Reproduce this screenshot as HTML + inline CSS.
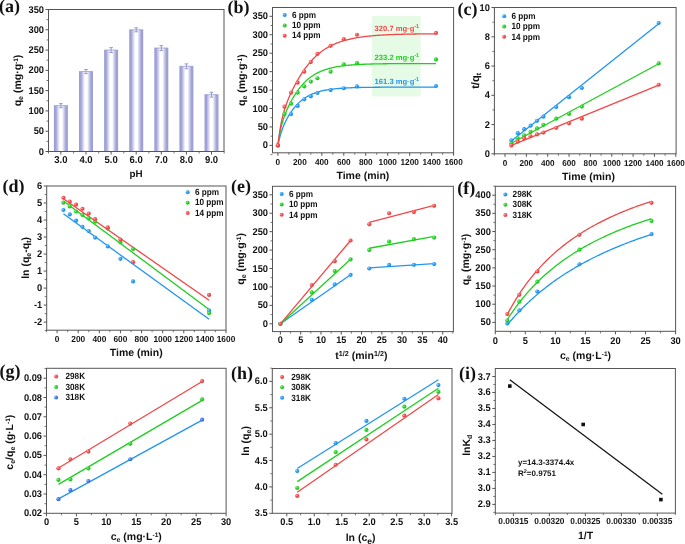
<!DOCTYPE html>
<html><head><meta charset="utf-8"><style>
html,body{margin:0;padding:0;background:#fff;}
body{width:685px;height:544px;overflow:hidden;}
svg{display:block;font-family:"Liberation Sans",sans-serif;filter:blur(0.4px);}
</style></head><body>
<svg width="685" height="544" viewBox="0 0 685 544" text-rendering="geometricPrecision">
<rect width="685" height="544" fill="#fff"/>
<defs><linearGradient id="bar" x1="0" x2="1" y1="0" y2="0"><stop offset="0" stop-color="#9b9dd3"/><stop offset="0.15" stop-color="#a3a5d8"/><stop offset="0.42" stop-color="#ffffff"/><stop offset="0.58" stop-color="#ffffff"/><stop offset="0.85" stop-color="#a3a5d8"/><stop offset="1" stop-color="#9b9dd3"/></linearGradient></defs>
<rect x="53.90" y="105.65" width="14" height="45.85" fill="url(#bar)"/>
<line x1="53.90" y1="105.65" x2="67.90" y2="105.65" stroke="#9b9dd3" stroke-width="0.8"/>
<path d="M60.90 103.63V107.68M59.10 103.63h3.6M59.10 107.68h3.6" stroke="#8d8fc6" stroke-width="0.9" fill="none"/>
<rect x="79.00" y="71.57" width="14" height="79.93" fill="url(#bar)"/>
<line x1="79.00" y1="71.57" x2="93.00" y2="71.57" stroke="#9b9dd3" stroke-width="0.8"/>
<path d="M86.00 69.55V73.60M84.20 69.55h3.6M84.20 73.60h3.6" stroke="#8d8fc6" stroke-width="0.9" fill="none"/>
<rect x="104.10" y="50.07" width="14" height="101.43" fill="url(#bar)"/>
<line x1="104.10" y1="50.07" x2="118.10" y2="50.07" stroke="#9b9dd3" stroke-width="0.8"/>
<path d="M111.10 47.64V52.51M109.30 47.64h3.6M109.30 52.51h3.6" stroke="#8d8fc6" stroke-width="0.9" fill="none"/>
<rect x="129.20" y="29.79" width="14" height="121.71" fill="url(#bar)"/>
<line x1="129.20" y1="29.79" x2="143.20" y2="29.79" stroke="#9b9dd3" stroke-width="0.8"/>
<path d="M136.20 27.76V31.81M134.40 27.76h3.6M134.40 31.81h3.6" stroke="#8d8fc6" stroke-width="0.9" fill="none"/>
<rect x="154.30" y="48.04" width="14" height="103.46" fill="url(#bar)"/>
<line x1="154.30" y1="48.04" x2="168.30" y2="48.04" stroke="#9b9dd3" stroke-width="0.8"/>
<path d="M161.30 45.61V50.48M159.50 45.61h3.6M159.50 50.48h3.6" stroke="#8d8fc6" stroke-width="0.9" fill="none"/>
<rect x="179.40" y="66.30" width="14" height="85.20" fill="url(#bar)"/>
<line x1="179.40" y1="66.30" x2="193.40" y2="66.30" stroke="#9b9dd3" stroke-width="0.8"/>
<path d="M186.40 63.87V68.73M184.60 63.87h3.6M184.60 68.73h3.6" stroke="#8d8fc6" stroke-width="0.9" fill="none"/>
<rect x="204.50" y="94.70" width="14" height="56.80" fill="url(#bar)"/>
<line x1="204.50" y1="94.70" x2="218.50" y2="94.70" stroke="#9b9dd3" stroke-width="0.8"/>
<path d="M211.50 92.27V97.13M209.70 92.27h3.6M209.70 97.13h3.6" stroke="#8d8fc6" stroke-width="0.9" fill="none"/>
<rect x="48.50" y="9.50" width="175.50" height="142.00" fill="none" stroke="#555" stroke-width="1"/>
<line x1="45.50" y1="151.50" x2="48.50" y2="151.50" stroke="#555" stroke-width="1"/>
<line x1="45.50" y1="131.21" x2="48.50" y2="131.21" stroke="#555" stroke-width="1"/>
<line x1="45.50" y1="110.93" x2="48.50" y2="110.93" stroke="#555" stroke-width="1"/>
<line x1="45.50" y1="90.64" x2="48.50" y2="90.64" stroke="#555" stroke-width="1"/>
<line x1="45.50" y1="70.36" x2="48.50" y2="70.36" stroke="#555" stroke-width="1"/>
<line x1="45.50" y1="50.07" x2="48.50" y2="50.07" stroke="#555" stroke-width="1"/>
<line x1="45.50" y1="29.79" x2="48.50" y2="29.79" stroke="#555" stroke-width="1"/>
<line x1="45.50" y1="9.50" x2="48.50" y2="9.50" stroke="#555" stroke-width="1"/>
<line x1="46.50" y1="141.36" x2="48.50" y2="141.36" stroke="#555" stroke-width="0.8"/>
<line x1="46.50" y1="121.07" x2="48.50" y2="121.07" stroke="#555" stroke-width="0.8"/>
<line x1="46.50" y1="100.79" x2="48.50" y2="100.79" stroke="#555" stroke-width="0.8"/>
<line x1="46.50" y1="80.50" x2="48.50" y2="80.50" stroke="#555" stroke-width="0.8"/>
<line x1="46.50" y1="60.21" x2="48.50" y2="60.21" stroke="#555" stroke-width="0.8"/>
<line x1="46.50" y1="39.93" x2="48.50" y2="39.93" stroke="#555" stroke-width="0.8"/>
<line x1="46.50" y1="19.64" x2="48.50" y2="19.64" stroke="#555" stroke-width="0.8"/>
<text transform="translate(44.00,154.50) scale(1,1.05)" font-size="9.312" text-anchor="end" font-weight="bold" font-family="Liberation Sans" fill="#111" >0</text>
<text transform="translate(44.00,134.21) scale(1,1.05)" font-size="9.312" text-anchor="end" font-weight="bold" font-family="Liberation Sans" fill="#111" >50</text>
<text transform="translate(44.00,113.93) scale(1,1.05)" font-size="9.312" text-anchor="end" font-weight="bold" font-family="Liberation Sans" fill="#111" >100</text>
<text transform="translate(44.00,93.64) scale(1,1.05)" font-size="9.312" text-anchor="end" font-weight="bold" font-family="Liberation Sans" fill="#111" >150</text>
<text transform="translate(44.00,73.36) scale(1,1.05)" font-size="9.312" text-anchor="end" font-weight="bold" font-family="Liberation Sans" fill="#111" >200</text>
<text transform="translate(44.00,53.07) scale(1,1.05)" font-size="9.312" text-anchor="end" font-weight="bold" font-family="Liberation Sans" fill="#111" >250</text>
<text transform="translate(44.00,32.79) scale(1,1.05)" font-size="9.312" text-anchor="end" font-weight="bold" font-family="Liberation Sans" fill="#111" >300</text>
<text transform="translate(44.00,12.50) scale(1,1.05)" font-size="9.312" text-anchor="end" font-weight="bold" font-family="Liberation Sans" fill="#111" >350</text>
<line x1="60.90" y1="151.5" x2="60.90" y2="154.5" stroke="#555" stroke-width="1"/>
<line x1="86.00" y1="151.5" x2="86.00" y2="154.5" stroke="#555" stroke-width="1"/>
<line x1="111.10" y1="151.5" x2="111.10" y2="154.5" stroke="#555" stroke-width="1"/>
<line x1="136.20" y1="151.5" x2="136.20" y2="154.5" stroke="#555" stroke-width="1"/>
<line x1="161.30" y1="151.5" x2="161.30" y2="154.5" stroke="#555" stroke-width="1"/>
<line x1="186.40" y1="151.5" x2="186.40" y2="154.5" stroke="#555" stroke-width="1"/>
<line x1="211.50" y1="151.5" x2="211.50" y2="154.5" stroke="#555" stroke-width="1"/>
<line x1="48.50" y1="151.5" x2="48.50" y2="153.5" stroke="#555" stroke-width="0.8"/>
<line x1="73.60" y1="151.5" x2="73.60" y2="153.5" stroke="#555" stroke-width="0.8"/>
<line x1="98.70" y1="151.5" x2="98.70" y2="153.5" stroke="#555" stroke-width="0.8"/>
<line x1="123.80" y1="151.5" x2="123.80" y2="153.5" stroke="#555" stroke-width="0.8"/>
<line x1="148.90" y1="151.5" x2="148.90" y2="153.5" stroke="#555" stroke-width="0.8"/>
<line x1="174.00" y1="151.5" x2="174.00" y2="153.5" stroke="#555" stroke-width="0.8"/>
<line x1="199.10" y1="151.5" x2="199.10" y2="153.5" stroke="#555" stroke-width="0.8"/>
<line x1="224.20" y1="151.5" x2="224.20" y2="153.5" stroke="#555" stroke-width="0.8"/>
<text transform="translate(60.90,163.30) scale(1,1.05)" font-size="9.506" text-anchor="middle" font-weight="bold" font-family="Liberation Sans" fill="#111" >3.0</text>
<text transform="translate(86.00,163.30) scale(1,1.05)" font-size="9.506" text-anchor="middle" font-weight="bold" font-family="Liberation Sans" fill="#111" >4.0</text>
<text transform="translate(111.10,163.30) scale(1,1.05)" font-size="9.506" text-anchor="middle" font-weight="bold" font-family="Liberation Sans" fill="#111" >5.0</text>
<text transform="translate(136.20,163.30) scale(1,1.05)" font-size="9.506" text-anchor="middle" font-weight="bold" font-family="Liberation Sans" fill="#111" >6.0</text>
<text transform="translate(161.30,163.30) scale(1,1.05)" font-size="9.506" text-anchor="middle" font-weight="bold" font-family="Liberation Sans" fill="#111" >7.0</text>
<text transform="translate(186.40,163.30) scale(1,1.05)" font-size="9.506" text-anchor="middle" font-weight="bold" font-family="Liberation Sans" fill="#111" >8.0</text>
<text transform="translate(211.50,163.30) scale(1,1.05)" font-size="9.506" text-anchor="middle" font-weight="bold" font-family="Liberation Sans" fill="#111" >9.0</text>
<text x="136.00" y="177.00" font-size="9.8" text-anchor="middle" font-weight="bold" font-family="Liberation Sans" fill="#111" >pH</text>
<text transform="translate(20.60,80.50) rotate(-90)" font-size="10.5" text-anchor="middle" font-weight="bold" font-family="Liberation Sans" fill="#111">q<tspan font-size="7" baseline-shift="-2">e</tspan> (mg·g<tspan font-size="6.5" baseline-shift="3.5">-1</tspan>)</text>
<text x="-1.00" y="11.90" font-size="18" text-anchor="start" font-weight="bold" font-family="Liberation Serif" fill="#111" >(a)</text>
<rect x="372" y="15.9" width="48.66" height="80.5" fill="#e6fbe6"/>
<polyline points="277.90,145.40 278.34,143.29 278.78,141.33 279.22,139.50 279.66,137.78 280.10,136.16 280.54,134.64 280.97,133.20 281.41,131.84 281.85,130.54 282.29,129.31 282.73,128.13 283.17,127.00 283.61,125.91 284.05,124.87 284.49,123.86 284.93,122.89 285.37,121.95 285.81,121.05 286.25,120.17 286.69,119.32 287.12,118.49 287.56,117.69 288.00,116.91 288.44,116.15 288.88,115.41 289.32,114.69 289.76,113.99 290.20,113.31 290.64,112.64 291.08,111.99 292.18,110.44 293.27,108.98 294.37,107.61 295.47,106.31 296.57,105.10 297.67,103.96 298.76,102.88 299.86,101.88 300.96,100.93 302.06,100.04 303.16,99.21 304.25,98.43 305.35,97.69 306.45,97.01 307.55,96.37 308.65,95.76 309.75,95.20 310.84,94.67 311.94,94.18 313.04,93.72 314.14,93.29 315.24,92.88 316.33,92.51 317.43,92.15 318.53,91.82 319.63,91.51 320.73,91.23 321.82,90.96 322.92,90.71 324.02,90.47 325.12,90.25 326.22,90.04 327.32,89.85 328.41,89.67 329.51,89.51 330.61,89.35 331.71,89.20 332.81,89.07 333.90,88.94 335.00,88.82 336.10,88.71 337.20,88.60 338.30,88.50 339.39,88.41 340.49,88.33 341.59,88.25 342.69,88.18 343.79,88.11 344.89,88.04 345.98,87.98 347.08,87.92 348.18,87.87 349.28,87.82 350.38,87.78 351.47,87.73 352.57,87.69 353.67,87.65 354.77,87.62 355.87,87.59 356.96,87.56 358.06,87.53 359.16,87.50 360.26,87.48 361.36,87.45 362.46,87.43 363.55,87.41 364.65,87.39 365.75,87.37 366.85,87.36 367.95,87.34 369.04,87.33 370.14,87.31 371.24,87.30 372.34,87.29 373.44,87.28 374.53,87.27 375.63,87.26 376.73,87.25 377.83,87.24 378.93,87.23 380.03,87.23 381.12,87.22 382.22,87.21 383.32,87.21 384.42,87.20 385.52,87.19 386.61,87.19 387.71,87.19 388.81,87.18 389.91,87.18 391.01,87.17 392.11,87.17 393.20,87.17 394.30,87.16 395.40,87.16 396.50,87.16 397.60,87.16 398.69,87.15 399.79,87.15 400.89,87.15 401.99,87.15 403.09,87.15 404.18,87.14 405.28,87.14 406.38,87.14 407.48,87.14 408.58,87.14 409.68,87.14 410.77,87.14 411.87,87.14 412.97,87.13 414.07,87.13 415.17,87.13 416.26,87.13 417.36,87.13 418.46,87.13 419.56,87.13 420.66,87.13 421.75,87.13 422.85,87.13 423.95,87.13 425.05,87.13 426.15,87.13 427.25,87.13 428.34,87.13 429.44,87.13 430.54,87.13 431.64,87.12 432.74,87.12 433.83,87.12 434.93,87.12 436.03,87.12" fill="none" stroke="#2196f0" stroke-width="1.3"/>
<polyline points="277.90,145.40 278.34,142.19 278.78,139.26 279.22,136.59 279.66,134.14 280.10,131.88 280.54,129.80 280.97,127.86 281.41,126.05 281.85,124.36 282.29,122.76 282.73,121.26 283.17,119.84 283.61,118.48 284.05,117.19 284.49,115.95 284.93,114.75 285.37,113.61 285.81,112.50 286.25,111.43 286.69,110.38 287.12,109.37 287.56,108.39 288.00,107.43 288.44,106.49 288.88,105.57 289.32,104.68 289.76,103.80 290.20,102.94 290.64,102.10 291.08,101.28 292.18,99.28 293.27,97.38 294.37,95.57 295.47,93.84 296.57,92.19 297.67,90.62 298.76,89.13 299.86,87.70 300.96,86.35 302.06,85.07 303.16,83.86 304.25,82.71 305.35,81.62 306.45,80.58 307.55,79.61 308.65,78.69 309.75,77.81 310.84,76.99 311.94,76.21 313.04,75.48 314.14,74.79 315.24,74.14 316.33,73.52 317.43,72.94 318.53,72.39 319.63,71.88 320.73,71.39 321.82,70.94 322.92,70.50 324.02,70.10 325.12,69.72 326.22,69.35 327.32,69.01 328.41,68.69 329.51,68.39 330.61,68.11 331.71,67.84 332.81,67.59 333.90,67.35 335.00,67.13 336.10,66.92 337.20,66.72 338.30,66.53 339.39,66.36 340.49,66.19 341.59,66.04 342.69,65.89 343.79,65.75 344.89,65.62 345.98,65.50 347.08,65.38 348.18,65.27 349.28,65.17 350.38,65.07 351.47,64.98 352.57,64.90 353.67,64.82 354.77,64.74 355.87,64.67 356.96,64.60 358.06,64.54 359.16,64.48 360.26,64.42 361.36,64.37 362.46,64.32 363.55,64.27 364.65,64.23 365.75,64.19 366.85,64.15 367.95,64.11 369.04,64.08 370.14,64.04 371.24,64.01 372.34,63.98 373.44,63.96 374.53,63.93 375.63,63.91 376.73,63.88 377.83,63.86 378.93,63.84 380.03,63.82 381.12,63.80 382.22,63.79 383.32,63.77 384.42,63.76 385.52,63.74 386.61,63.73 387.71,63.72 388.81,63.70 389.91,63.69 391.01,63.68 392.11,63.67 393.20,63.66 394.30,63.66 395.40,63.65 396.50,63.64 397.60,63.63 398.69,63.63 399.79,63.62 400.89,63.61 401.99,63.61 403.09,63.60 404.18,63.60 405.28,63.59 406.38,63.59 407.48,63.58 408.58,63.58 409.68,63.57 410.77,63.57 411.87,63.57 412.97,63.56 414.07,63.56 415.17,63.56 416.26,63.56 417.36,63.55 418.46,63.55 419.56,63.55 420.66,63.55 421.75,63.55 422.85,63.54 423.95,63.54 425.05,63.54 426.15,63.54 427.25,63.54 428.34,63.54 429.44,63.53 430.54,63.53 431.64,63.53 432.74,63.53 433.83,63.53 434.93,63.53 436.03,63.53" fill="none" stroke="#1fcf1f" stroke-width="1.3"/>
<polyline points="277.90,145.40 278.34,141.59 278.78,138.08 279.22,134.85 279.66,131.88 280.10,129.12 280.54,126.57 280.97,124.20 281.41,121.98 281.85,119.91 282.29,117.97 282.73,116.14 283.17,114.41 283.61,112.78 284.05,111.23 284.49,109.75 284.93,108.33 285.37,106.98 285.81,105.68 286.25,104.43 286.69,103.22 287.12,102.05 287.56,100.91 288.00,99.80 288.44,98.73 288.88,97.68 289.32,96.65 289.76,95.65 290.20,94.66 290.64,93.70 291.08,92.75 292.18,90.45 293.27,88.24 294.37,86.10 295.47,84.04 296.57,82.04 297.67,80.10 298.76,78.23 299.86,76.41 300.96,74.66 302.06,72.96 303.16,71.32 304.25,69.74 305.35,68.21 306.45,66.74 307.55,65.33 308.65,63.96 309.75,62.65 310.84,61.40 311.94,60.19 313.04,59.03 314.14,57.91 315.24,56.85 316.33,55.82 317.43,54.84 318.53,53.90 319.63,53.01 320.73,52.14 321.82,51.32 322.92,50.53 324.02,49.78 325.12,49.06 326.22,48.37 327.32,47.71 328.41,47.08 329.51,46.48 330.61,45.91 331.71,45.36 332.81,44.83 333.90,44.33 335.00,43.85 336.10,43.39 337.20,42.95 338.30,42.53 339.39,42.14 340.49,41.75 341.59,41.39 342.69,41.04 343.79,40.71 344.89,40.39 345.98,40.09 347.08,39.80 348.18,39.52 349.28,39.26 350.38,39.00 351.47,38.76 352.57,38.53 353.67,38.31 354.77,38.10 355.87,37.90 356.96,37.71 358.06,37.53 359.16,37.35 360.26,37.18 361.36,37.02 362.46,36.87 363.55,36.73 364.65,36.59 365.75,36.46 366.85,36.33 367.95,36.21 369.04,36.09 370.14,35.98 371.24,35.88 372.34,35.78 373.44,35.68 374.53,35.59 375.63,35.50 376.73,35.42 377.83,35.34 378.93,35.26 380.03,35.19 381.12,35.12 382.22,35.05 383.32,34.99 384.42,34.93 385.52,34.87 386.61,34.81 387.71,34.76 388.81,34.71 389.91,34.66 391.01,34.61 392.11,34.57 393.20,34.53 394.30,34.49 395.40,34.45 396.50,34.41 397.60,34.38 398.69,34.35 399.79,34.31 400.89,34.28 401.99,34.25 403.09,34.23 404.18,34.20 405.28,34.17 406.38,34.15 407.48,34.13 408.58,34.11 409.68,34.08 410.77,34.06 411.87,34.04 412.97,34.03 414.07,34.01 415.17,33.99 416.26,33.98 417.36,33.96 418.46,33.95 419.56,33.93 420.66,33.92 421.75,33.91 422.85,33.89 423.95,33.88 425.05,33.87 426.15,33.86 427.25,33.85 428.34,33.84 429.44,33.83 430.54,33.82 431.64,33.81 432.74,33.81 433.83,33.80 434.93,33.79 436.03,33.78" fill="none" stroke="#f04848" stroke-width="1.3"/>
<circle cx="277.90" cy="145.40" r="2.1" fill="#2196f0"/>
<circle cx="277.30" cy="144.80" r="0.95" fill="#fff" fill-opacity="0.45"/>
<circle cx="291.08" cy="114.05" r="2.1" fill="#2196f0"/>
<circle cx="290.48" cy="113.45" r="0.95" fill="#fff" fill-opacity="0.45"/>
<circle cx="297.67" cy="105.93" r="2.1" fill="#2196f0"/>
<circle cx="297.07" cy="105.33" r="0.95" fill="#fff" fill-opacity="0.45"/>
<circle cx="304.25" cy="99.29" r="2.1" fill="#2196f0"/>
<circle cx="303.65" cy="98.69" r="0.95" fill="#fff" fill-opacity="0.45"/>
<circle cx="310.84" cy="96.34" r="2.1" fill="#2196f0"/>
<circle cx="310.24" cy="95.74" r="0.95" fill="#fff" fill-opacity="0.45"/>
<circle cx="317.43" cy="93.02" r="2.1" fill="#2196f0"/>
<circle cx="316.83" cy="92.42" r="0.95" fill="#fff" fill-opacity="0.45"/>
<circle cx="330.61" cy="90.07" r="2.1" fill="#2196f0"/>
<circle cx="330.01" cy="89.47" r="0.95" fill="#fff" fill-opacity="0.45"/>
<circle cx="343.79" cy="88.23" r="2.1" fill="#2196f0"/>
<circle cx="343.19" cy="87.63" r="0.95" fill="#fff" fill-opacity="0.45"/>
<circle cx="356.96" cy="86.38" r="2.1" fill="#2196f0"/>
<circle cx="356.36" cy="85.78" r="0.95" fill="#fff" fill-opacity="0.45"/>
<circle cx="436.03" cy="86.01" r="2.1" fill="#2196f0"/>
<circle cx="435.43" cy="85.41" r="0.95" fill="#fff" fill-opacity="0.45"/>
<circle cx="277.90" cy="145.40" r="2.1" fill="#1fcf1f"/>
<circle cx="277.30" cy="144.80" r="0.95" fill="#fff" fill-opacity="0.45"/>
<circle cx="284.49" cy="114.05" r="2.1" fill="#1fcf1f"/>
<circle cx="283.89" cy="113.45" r="0.95" fill="#fff" fill-opacity="0.45"/>
<circle cx="291.08" cy="103.72" r="2.1" fill="#1fcf1f"/>
<circle cx="290.48" cy="103.12" r="0.95" fill="#fff" fill-opacity="0.45"/>
<circle cx="297.67" cy="92.65" r="2.1" fill="#1fcf1f"/>
<circle cx="297.07" cy="92.05" r="0.95" fill="#fff" fill-opacity="0.45"/>
<circle cx="304.25" cy="86.38" r="2.1" fill="#1fcf1f"/>
<circle cx="303.65" cy="85.78" r="0.95" fill="#fff" fill-opacity="0.45"/>
<circle cx="310.84" cy="81.59" r="2.1" fill="#1fcf1f"/>
<circle cx="310.24" cy="80.99" r="0.95" fill="#fff" fill-opacity="0.45"/>
<circle cx="317.43" cy="78.27" r="2.1" fill="#1fcf1f"/>
<circle cx="316.83" cy="77.67" r="0.95" fill="#fff" fill-opacity="0.45"/>
<circle cx="330.61" cy="71.63" r="2.1" fill="#1fcf1f"/>
<circle cx="330.01" cy="71.03" r="0.95" fill="#fff" fill-opacity="0.45"/>
<circle cx="343.79" cy="64.25" r="2.1" fill="#1fcf1f"/>
<circle cx="343.19" cy="63.65" r="0.95" fill="#fff" fill-opacity="0.45"/>
<circle cx="356.96" cy="63.14" r="2.1" fill="#1fcf1f"/>
<circle cx="356.36" cy="62.54" r="0.95" fill="#fff" fill-opacity="0.45"/>
<circle cx="436.03" cy="59.46" r="2.1" fill="#1fcf1f"/>
<circle cx="435.43" cy="58.86" r="0.95" fill="#fff" fill-opacity="0.45"/>
<circle cx="277.90" cy="145.40" r="2.1" fill="#f04848"/>
<circle cx="277.30" cy="144.80" r="0.95" fill="#fff" fill-opacity="0.45"/>
<circle cx="284.49" cy="106.67" r="2.1" fill="#f04848"/>
<circle cx="283.89" cy="106.07" r="0.95" fill="#fff" fill-opacity="0.45"/>
<circle cx="291.08" cy="92.65" r="2.1" fill="#f04848"/>
<circle cx="290.48" cy="92.05" r="0.95" fill="#fff" fill-opacity="0.45"/>
<circle cx="297.67" cy="82.69" r="2.1" fill="#f04848"/>
<circle cx="297.07" cy="82.09" r="0.95" fill="#fff" fill-opacity="0.45"/>
<circle cx="304.25" cy="71.63" r="2.1" fill="#f04848"/>
<circle cx="303.65" cy="71.03" r="0.95" fill="#fff" fill-opacity="0.45"/>
<circle cx="310.84" cy="62.04" r="2.1" fill="#f04848"/>
<circle cx="310.24" cy="61.44" r="0.95" fill="#fff" fill-opacity="0.45"/>
<circle cx="317.43" cy="53.92" r="2.1" fill="#f04848"/>
<circle cx="316.83" cy="53.32" r="0.95" fill="#fff" fill-opacity="0.45"/>
<circle cx="330.61" cy="45.81" r="2.1" fill="#f04848"/>
<circle cx="330.01" cy="45.21" r="0.95" fill="#fff" fill-opacity="0.45"/>
<circle cx="343.79" cy="39.17" r="2.1" fill="#f04848"/>
<circle cx="343.19" cy="38.57" r="0.95" fill="#fff" fill-opacity="0.45"/>
<circle cx="356.96" cy="34.74" r="2.1" fill="#f04848"/>
<circle cx="356.36" cy="34.14" r="0.95" fill="#fff" fill-opacity="0.45"/>
<circle cx="436.03" cy="32.90" r="2.1" fill="#f04848"/>
<circle cx="435.43" cy="32.30" r="0.95" fill="#fff" fill-opacity="0.45"/>
<rect x="272.50" y="7.50" width="181.10" height="145.30" fill="none" stroke="#555" stroke-width="1"/>
<line x1="269.50" y1="145.40" x2="272.50" y2="145.40" stroke="#555" stroke-width="1"/>
<line x1="269.50" y1="126.96" x2="272.50" y2="126.96" stroke="#555" stroke-width="1"/>
<line x1="269.50" y1="108.51" x2="272.50" y2="108.51" stroke="#555" stroke-width="1"/>
<line x1="269.50" y1="90.07" x2="272.50" y2="90.07" stroke="#555" stroke-width="1"/>
<line x1="269.50" y1="71.63" x2="272.50" y2="71.63" stroke="#555" stroke-width="1"/>
<line x1="269.50" y1="53.19" x2="272.50" y2="53.19" stroke="#555" stroke-width="1"/>
<line x1="269.50" y1="34.74" x2="272.50" y2="34.74" stroke="#555" stroke-width="1"/>
<line x1="269.50" y1="16.30" x2="272.50" y2="16.30" stroke="#555" stroke-width="1"/>
<line x1="270.50" y1="136.18" x2="272.50" y2="136.18" stroke="#555" stroke-width="0.8"/>
<line x1="270.50" y1="117.74" x2="272.50" y2="117.74" stroke="#555" stroke-width="0.8"/>
<line x1="270.50" y1="99.29" x2="272.50" y2="99.29" stroke="#555" stroke-width="0.8"/>
<line x1="270.50" y1="80.85" x2="272.50" y2="80.85" stroke="#555" stroke-width="0.8"/>
<line x1="270.50" y1="62.41" x2="272.50" y2="62.41" stroke="#555" stroke-width="0.8"/>
<line x1="270.50" y1="43.96" x2="272.50" y2="43.96" stroke="#555" stroke-width="0.8"/>
<line x1="270.50" y1="25.52" x2="272.50" y2="25.52" stroke="#555" stroke-width="0.8"/>
<line x1="270.50" y1="154.62" x2="272.50" y2="154.62" stroke="#555" stroke-width="0.8"/>
<text transform="translate(268.00,148.40) scale(1,1.05)" font-size="9.312" text-anchor="end" font-weight="bold" font-family="Liberation Sans" fill="#111" >0</text>
<text transform="translate(268.00,129.96) scale(1,1.05)" font-size="9.312" text-anchor="end" font-weight="bold" font-family="Liberation Sans" fill="#111" >50</text>
<text transform="translate(268.00,111.51) scale(1,1.05)" font-size="9.312" text-anchor="end" font-weight="bold" font-family="Liberation Sans" fill="#111" >100</text>
<text transform="translate(268.00,93.07) scale(1,1.05)" font-size="9.312" text-anchor="end" font-weight="bold" font-family="Liberation Sans" fill="#111" >150</text>
<text transform="translate(268.00,74.63) scale(1,1.05)" font-size="9.312" text-anchor="end" font-weight="bold" font-family="Liberation Sans" fill="#111" >200</text>
<text transform="translate(268.00,56.19) scale(1,1.05)" font-size="9.312" text-anchor="end" font-weight="bold" font-family="Liberation Sans" fill="#111" >250</text>
<text transform="translate(268.00,37.74) scale(1,1.05)" font-size="9.312" text-anchor="end" font-weight="bold" font-family="Liberation Sans" fill="#111" >300</text>
<text transform="translate(268.00,19.30) scale(1,1.05)" font-size="9.312" text-anchor="end" font-weight="bold" font-family="Liberation Sans" fill="#111" >350</text>
<line x1="277.90" y1="152.80" x2="277.90" y2="155.80" stroke="#555" stroke-width="1"/>
<line x1="299.86" y1="152.80" x2="299.86" y2="155.80" stroke="#555" stroke-width="1"/>
<line x1="321.82" y1="152.80" x2="321.82" y2="155.80" stroke="#555" stroke-width="1"/>
<line x1="343.79" y1="152.80" x2="343.79" y2="155.80" stroke="#555" stroke-width="1"/>
<line x1="365.75" y1="152.80" x2="365.75" y2="155.80" stroke="#555" stroke-width="1"/>
<line x1="387.71" y1="152.80" x2="387.71" y2="155.80" stroke="#555" stroke-width="1"/>
<line x1="409.68" y1="152.80" x2="409.68" y2="155.80" stroke="#555" stroke-width="1"/>
<line x1="431.64" y1="152.80" x2="431.64" y2="155.80" stroke="#555" stroke-width="1"/>
<line x1="453.60" y1="152.80" x2="453.60" y2="155.80" stroke="#555" stroke-width="1"/>
<line x1="288.88" y1="152.80" x2="288.88" y2="154.80" stroke="#555" stroke-width="0.8"/>
<line x1="310.84" y1="152.80" x2="310.84" y2="154.80" stroke="#555" stroke-width="0.8"/>
<line x1="332.81" y1="152.80" x2="332.81" y2="154.80" stroke="#555" stroke-width="0.8"/>
<line x1="354.77" y1="152.80" x2="354.77" y2="154.80" stroke="#555" stroke-width="0.8"/>
<line x1="376.73" y1="152.80" x2="376.73" y2="154.80" stroke="#555" stroke-width="0.8"/>
<line x1="398.69" y1="152.80" x2="398.69" y2="154.80" stroke="#555" stroke-width="0.8"/>
<line x1="420.66" y1="152.80" x2="420.66" y2="154.80" stroke="#555" stroke-width="0.8"/>
<line x1="442.62" y1="152.80" x2="442.62" y2="154.80" stroke="#555" stroke-width="0.8"/>
<text transform="translate(277.90,165.40) scale(1,1.05)" font-size="8.245" text-anchor="middle" font-weight="bold" font-family="Liberation Sans" fill="#111" >0</text>
<text transform="translate(299.86,165.40) scale(1,1.05)" font-size="8.245" text-anchor="middle" font-weight="bold" font-family="Liberation Sans" fill="#111" >200</text>
<text transform="translate(321.82,165.40) scale(1,1.05)" font-size="8.245" text-anchor="middle" font-weight="bold" font-family="Liberation Sans" fill="#111" >400</text>
<text transform="translate(343.79,165.40) scale(1,1.05)" font-size="8.245" text-anchor="middle" font-weight="bold" font-family="Liberation Sans" fill="#111" >600</text>
<text transform="translate(365.75,165.40) scale(1,1.05)" font-size="8.245" text-anchor="middle" font-weight="bold" font-family="Liberation Sans" fill="#111" >800</text>
<text transform="translate(387.71,165.40) scale(1,1.05)" font-size="8.245" text-anchor="middle" font-weight="bold" font-family="Liberation Sans" fill="#111" >1000</text>
<text transform="translate(409.68,165.40) scale(1,1.05)" font-size="8.245" text-anchor="middle" font-weight="bold" font-family="Liberation Sans" fill="#111" >1200</text>
<text transform="translate(431.64,165.40) scale(1,1.05)" font-size="8.245" text-anchor="middle" font-weight="bold" font-family="Liberation Sans" fill="#111" >1400</text>
<text transform="translate(453.60,165.40) scale(1,1.05)" font-size="8.245" text-anchor="middle" font-weight="bold" font-family="Liberation Sans" fill="#111" >1600</text>
<text x="362.90" y="179.00" font-size="10.5" text-anchor="middle" font-weight="bold" font-family="Liberation Sans" fill="#111" >Time (min)</text>
<text transform="translate(245.10,80.20) rotate(-90)" font-size="10.5" text-anchor="middle" font-weight="bold" font-family="Liberation Sans" fill="#111">q<tspan font-size="7" baseline-shift="-2">e</tspan> (mg·g<tspan font-size="6.5" baseline-shift="3.5">-1</tspan>)</text>
<text x="227.40" y="12.80" font-size="18" text-anchor="start" font-weight="bold" font-family="Liberation Serif" fill="#111" >(b)</text>
<circle cx="284.70" cy="15.10" r="2.0" fill="#2196f0"/>
<circle cx="284.10" cy="14.50" r="0.90" fill="#fff" fill-opacity="0.45"/>
<text transform="translate(291.90,17.80) scale(1,1.1)" font-size="8.2" text-anchor="start" font-weight="bold" font-family="Liberation Sans" fill="#111" >6 ppm</text>
<circle cx="284.70" cy="25.40" r="2.0" fill="#1fcf1f"/>
<circle cx="284.10" cy="24.80" r="0.90" fill="#fff" fill-opacity="0.45"/>
<text transform="translate(291.90,28.10) scale(1,1.1)" font-size="8.2" text-anchor="start" font-weight="bold" font-family="Liberation Sans" fill="#111" >10 ppm</text>
<circle cx="284.70" cy="35.70" r="2.0" fill="#f04848"/>
<circle cx="284.10" cy="35.10" r="0.90" fill="#fff" fill-opacity="0.45"/>
<text transform="translate(291.90,38.40) scale(1,1.1)" font-size="8.2" text-anchor="start" font-weight="bold" font-family="Liberation Sans" fill="#111" >14 ppm</text>
<text x="396.90" y="31.00" font-size="7.6" text-anchor="middle" font-weight="bold" font-family="Liberation Sans" fill="#f04848" >320.7 mg·g<tspan font-size="5.5" baseline-shift="3.5">-1</tspan></text>
<text x="396.90" y="59.50" font-size="7.6" text-anchor="middle" font-weight="bold" font-family="Liberation Sans" fill="#1fcf1f" >233.2 mg·g<tspan font-size="5.5" baseline-shift="3.5">-1</tspan></text>
<text x="396.90" y="84.00" font-size="7.6" text-anchor="middle" font-weight="bold" font-family="Liberation Sans" fill="#2196f0" >161.3 mg·g<tspan font-size="5.5" baseline-shift="3.5">-1</tspan></text>
<polyline points="511.40,141.08 658.72,23.64" fill="none" stroke="#2196f0" stroke-width="1.3"/>
<circle cx="511.40" cy="140.30" r="2.1" fill="#2196f0"/>
<circle cx="510.80" cy="139.70" r="0.95" fill="#fff" fill-opacity="0.45"/>
<circle cx="517.81" cy="133.15" r="2.1" fill="#2196f0"/>
<circle cx="517.21" cy="132.55" r="0.95" fill="#fff" fill-opacity="0.45"/>
<circle cx="524.22" cy="129.20" r="2.1" fill="#2196f0"/>
<circle cx="523.62" cy="128.60" r="0.95" fill="#fff" fill-opacity="0.45"/>
<circle cx="530.62" cy="125.72" r="2.1" fill="#2196f0"/>
<circle cx="530.02" cy="125.12" r="0.95" fill="#fff" fill-opacity="0.45"/>
<circle cx="537.02" cy="120.81" r="2.1" fill="#2196f0"/>
<circle cx="536.42" cy="120.21" r="0.95" fill="#fff" fill-opacity="0.45"/>
<circle cx="543.43" cy="116.72" r="2.1" fill="#2196f0"/>
<circle cx="542.83" cy="116.12" r="0.95" fill="#fff" fill-opacity="0.45"/>
<circle cx="556.24" cy="107.00" r="2.1" fill="#2196f0"/>
<circle cx="555.64" cy="106.40" r="0.95" fill="#fff" fill-opacity="0.45"/>
<circle cx="569.05" cy="97.19" r="2.1" fill="#2196f0"/>
<circle cx="568.45" cy="96.59" r="0.95" fill="#fff" fill-opacity="0.45"/>
<circle cx="581.86" cy="87.99" r="2.1" fill="#2196f0"/>
<circle cx="581.26" cy="87.39" r="0.95" fill="#fff" fill-opacity="0.45"/>
<circle cx="658.72" cy="22.99" r="2.1" fill="#2196f0"/>
<circle cx="658.12" cy="22.39" r="0.95" fill="#fff" fill-opacity="0.45"/>
<polyline points="511.40,143.27 658.72,63.71" fill="none" stroke="#1fcf1f" stroke-width="1.3"/>
<circle cx="511.40" cy="143.48" r="2.1" fill="#1fcf1f"/>
<circle cx="510.80" cy="142.88" r="0.95" fill="#fff" fill-opacity="0.45"/>
<circle cx="517.81" cy="138.27" r="2.1" fill="#1fcf1f"/>
<circle cx="517.21" cy="137.67" r="0.95" fill="#fff" fill-opacity="0.45"/>
<circle cx="524.22" cy="135.39" r="2.1" fill="#1fcf1f"/>
<circle cx="523.62" cy="134.79" r="0.95" fill="#fff" fill-opacity="0.45"/>
<circle cx="530.62" cy="131.86" r="2.1" fill="#1fcf1f"/>
<circle cx="530.02" cy="131.26" r="0.95" fill="#fff" fill-opacity="0.45"/>
<circle cx="537.02" cy="128.44" r="2.1" fill="#1fcf1f"/>
<circle cx="536.42" cy="127.84" r="0.95" fill="#fff" fill-opacity="0.45"/>
<circle cx="543.43" cy="124.87" r="2.1" fill="#1fcf1f"/>
<circle cx="542.83" cy="124.27" r="0.95" fill="#fff" fill-opacity="0.45"/>
<circle cx="556.24" cy="118.70" r="2.1" fill="#1fcf1f"/>
<circle cx="555.64" cy="118.10" r="0.95" fill="#fff" fill-opacity="0.45"/>
<circle cx="569.05" cy="113.91" r="2.1" fill="#1fcf1f"/>
<circle cx="568.45" cy="113.31" r="0.95" fill="#fff" fill-opacity="0.45"/>
<circle cx="581.86" cy="106.58" r="2.1" fill="#1fcf1f"/>
<circle cx="581.26" cy="105.98" r="0.95" fill="#fff" fill-opacity="0.45"/>
<circle cx="658.72" cy="63.41" r="2.1" fill="#1fcf1f"/>
<circle cx="658.12" cy="62.81" r="0.95" fill="#fff" fill-opacity="0.45"/>
<polyline points="511.40,145.32 658.72,85.06" fill="none" stroke="#f04848" stroke-width="1.3"/>
<circle cx="511.40" cy="145.44" r="2.1" fill="#f04848"/>
<circle cx="510.80" cy="144.84" r="0.95" fill="#fff" fill-opacity="0.45"/>
<circle cx="517.81" cy="141.53" r="2.1" fill="#f04848"/>
<circle cx="517.21" cy="140.93" r="0.95" fill="#fff" fill-opacity="0.45"/>
<circle cx="524.22" cy="138.31" r="2.1" fill="#f04848"/>
<circle cx="523.62" cy="137.71" r="0.95" fill="#fff" fill-opacity="0.45"/>
<circle cx="530.62" cy="136.25" r="2.1" fill="#f04848"/>
<circle cx="530.02" cy="135.65" r="0.95" fill="#fff" fill-opacity="0.45"/>
<circle cx="537.02" cy="134.39" r="2.1" fill="#f04848"/>
<circle cx="536.42" cy="133.79" r="0.95" fill="#fff" fill-opacity="0.45"/>
<circle cx="543.43" cy="132.57" r="2.1" fill="#f04848"/>
<circle cx="542.83" cy="131.97" r="0.95" fill="#fff" fill-opacity="0.45"/>
<circle cx="556.24" cy="127.80" r="2.1" fill="#f04848"/>
<circle cx="555.64" cy="127.20" r="0.95" fill="#fff" fill-opacity="0.45"/>
<circle cx="569.05" cy="123.33" r="2.1" fill="#f04848"/>
<circle cx="568.45" cy="122.73" r="0.95" fill="#fff" fill-opacity="0.45"/>
<circle cx="581.86" cy="118.70" r="2.1" fill="#f04848"/>
<circle cx="581.26" cy="118.10" r="0.95" fill="#fff" fill-opacity="0.45"/>
<circle cx="658.72" cy="84.75" r="2.1" fill="#f04848"/>
<circle cx="658.12" cy="84.15" r="0.95" fill="#fff" fill-opacity="0.45"/>
<rect x="494.40" y="7.50" width="181.70" height="146.30" fill="none" stroke="#555" stroke-width="1"/>
<line x1="491.40" y1="153.80" x2="494.40" y2="153.80" stroke="#555" stroke-width="1"/>
<line x1="491.40" y1="124.55" x2="494.40" y2="124.55" stroke="#555" stroke-width="1"/>
<line x1="491.40" y1="95.30" x2="494.40" y2="95.30" stroke="#555" stroke-width="1"/>
<line x1="491.40" y1="66.05" x2="494.40" y2="66.05" stroke="#555" stroke-width="1"/>
<line x1="491.40" y1="36.80" x2="494.40" y2="36.80" stroke="#555" stroke-width="1"/>
<line x1="491.40" y1="7.55" x2="494.40" y2="7.55" stroke="#555" stroke-width="1"/>
<line x1="492.40" y1="139.18" x2="494.40" y2="139.18" stroke="#555" stroke-width="0.8"/>
<line x1="492.40" y1="109.93" x2="494.40" y2="109.93" stroke="#555" stroke-width="0.8"/>
<line x1="492.40" y1="80.68" x2="494.40" y2="80.68" stroke="#555" stroke-width="0.8"/>
<line x1="492.40" y1="51.43" x2="494.40" y2="51.43" stroke="#555" stroke-width="0.8"/>
<line x1="492.40" y1="22.18" x2="494.40" y2="22.18" stroke="#555" stroke-width="0.8"/>
<text transform="translate(489.90,156.80) scale(1,1.05)" font-size="9.312" text-anchor="end" font-weight="bold" font-family="Liberation Sans" fill="#111" >0</text>
<text transform="translate(489.90,127.55) scale(1,1.05)" font-size="9.312" text-anchor="end" font-weight="bold" font-family="Liberation Sans" fill="#111" >2</text>
<text transform="translate(489.90,98.30) scale(1,1.05)" font-size="9.312" text-anchor="end" font-weight="bold" font-family="Liberation Sans" fill="#111" >4</text>
<text transform="translate(489.90,69.05) scale(1,1.05)" font-size="9.312" text-anchor="end" font-weight="bold" font-family="Liberation Sans" fill="#111" >6</text>
<text transform="translate(489.90,39.80) scale(1,1.05)" font-size="9.312" text-anchor="end" font-weight="bold" font-family="Liberation Sans" fill="#111" >8</text>
<text transform="translate(489.90,10.55) scale(1,1.05)" font-size="9.312" text-anchor="end" font-weight="bold" font-family="Liberation Sans" fill="#111" >10</text>
<line x1="505.00" y1="153.80" x2="505.00" y2="156.80" stroke="#555" stroke-width="1"/>
<line x1="526.35" y1="153.80" x2="526.35" y2="156.80" stroke="#555" stroke-width="1"/>
<line x1="547.70" y1="153.80" x2="547.70" y2="156.80" stroke="#555" stroke-width="1"/>
<line x1="569.05" y1="153.80" x2="569.05" y2="156.80" stroke="#555" stroke-width="1"/>
<line x1="590.40" y1="153.80" x2="590.40" y2="156.80" stroke="#555" stroke-width="1"/>
<line x1="611.75" y1="153.80" x2="611.75" y2="156.80" stroke="#555" stroke-width="1"/>
<line x1="633.10" y1="153.80" x2="633.10" y2="156.80" stroke="#555" stroke-width="1"/>
<line x1="654.45" y1="153.80" x2="654.45" y2="156.80" stroke="#555" stroke-width="1"/>
<line x1="675.80" y1="153.80" x2="675.80" y2="156.80" stroke="#555" stroke-width="1"/>
<line x1="494.32" y1="153.80" x2="494.32" y2="155.80" stroke="#555" stroke-width="0.8"/>
<line x1="515.67" y1="153.80" x2="515.67" y2="155.80" stroke="#555" stroke-width="0.8"/>
<line x1="537.02" y1="153.80" x2="537.02" y2="155.80" stroke="#555" stroke-width="0.8"/>
<line x1="558.38" y1="153.80" x2="558.38" y2="155.80" stroke="#555" stroke-width="0.8"/>
<line x1="579.73" y1="153.80" x2="579.73" y2="155.80" stroke="#555" stroke-width="0.8"/>
<line x1="601.08" y1="153.80" x2="601.08" y2="155.80" stroke="#555" stroke-width="0.8"/>
<line x1="622.42" y1="153.80" x2="622.42" y2="155.80" stroke="#555" stroke-width="0.8"/>
<line x1="643.77" y1="153.80" x2="643.77" y2="155.80" stroke="#555" stroke-width="0.8"/>
<line x1="665.12" y1="153.80" x2="665.12" y2="155.80" stroke="#555" stroke-width="0.8"/>
<text transform="translate(505.00,166.20) scale(1,1.05)" font-size="8.148" text-anchor="middle" font-weight="bold" font-family="Liberation Sans" fill="#111" >0</text>
<text transform="translate(526.35,166.20) scale(1,1.05)" font-size="8.148" text-anchor="middle" font-weight="bold" font-family="Liberation Sans" fill="#111" >200</text>
<text transform="translate(547.70,166.20) scale(1,1.05)" font-size="8.148" text-anchor="middle" font-weight="bold" font-family="Liberation Sans" fill="#111" >400</text>
<text transform="translate(569.05,166.20) scale(1,1.05)" font-size="8.148" text-anchor="middle" font-weight="bold" font-family="Liberation Sans" fill="#111" >600</text>
<text transform="translate(590.40,166.20) scale(1,1.05)" font-size="8.148" text-anchor="middle" font-weight="bold" font-family="Liberation Sans" fill="#111" >800</text>
<text transform="translate(611.75,166.20) scale(1,1.05)" font-size="8.148" text-anchor="middle" font-weight="bold" font-family="Liberation Sans" fill="#111" >1000</text>
<text transform="translate(633.10,166.20) scale(1,1.05)" font-size="8.148" text-anchor="middle" font-weight="bold" font-family="Liberation Sans" fill="#111" >1200</text>
<text transform="translate(654.45,166.20) scale(1,1.05)" font-size="8.148" text-anchor="middle" font-weight="bold" font-family="Liberation Sans" fill="#111" >1400</text>
<text transform="translate(675.80,166.20) scale(1,1.05)" font-size="8.148" text-anchor="middle" font-weight="bold" font-family="Liberation Sans" fill="#111" >1600</text>
<text x="588.50" y="180.00" font-size="10.5" text-anchor="middle" font-weight="bold" font-family="Liberation Sans" fill="#111" >Time (min)</text>
<text transform="translate(479.00,80.90) rotate(-90)" font-size="11" text-anchor="middle" font-weight="bold" font-family="Liberation Sans" fill="#111">t/q<tspan font-size="7" baseline-shift="-2">t</tspan></text>
<text x="457.50" y="14.60" font-size="18" text-anchor="start" font-weight="bold" font-family="Liberation Serif" fill="#111" >(c)</text>
<circle cx="504.20" cy="16.30" r="2.0" fill="#2196f0"/>
<circle cx="503.60" cy="15.70" r="0.90" fill="#fff" fill-opacity="0.45"/>
<text transform="translate(511.40,19.00) scale(1,1.1)" font-size="8.2" text-anchor="start" font-weight="bold" font-family="Liberation Sans" fill="#111" >6 ppm</text>
<circle cx="504.20" cy="26.55" r="2.0" fill="#1fcf1f"/>
<circle cx="503.60" cy="25.95" r="0.90" fill="#fff" fill-opacity="0.45"/>
<text transform="translate(511.40,29.25) scale(1,1.1)" font-size="8.2" text-anchor="start" font-weight="bold" font-family="Liberation Sans" fill="#111" >10 ppm</text>
<circle cx="504.20" cy="36.80" r="2.0" fill="#f04848"/>
<circle cx="503.60" cy="36.20" r="0.90" fill="#fff" fill-opacity="0.45"/>
<text transform="translate(511.40,39.50) scale(1,1.1)" font-size="8.2" text-anchor="start" font-weight="bold" font-family="Liberation Sans" fill="#111" >14 ppm</text>
<polyline points="63.43,213.73 209.11,319.21" fill="none" stroke="#2196f0" stroke-width="1.3"/>
<polyline points="63.43,200.97 209.11,309.51" fill="none" stroke="#1fcf1f" stroke-width="1.3"/>
<polyline points="63.43,198.76 209.11,300.32" fill="none" stroke="#f04848" stroke-width="1.3"/>
<circle cx="63.43" cy="209.99" r="2.1" fill="#2196f0"/>
<circle cx="62.83" cy="209.39" r="0.95" fill="#fff" fill-opacity="0.45"/>
<circle cx="69.77" cy="214.41" r="2.1" fill="#2196f0"/>
<circle cx="69.17" cy="213.81" r="0.95" fill="#fff" fill-opacity="0.45"/>
<circle cx="76.10" cy="220.71" r="2.1" fill="#2196f0"/>
<circle cx="75.50" cy="220.11" r="0.95" fill="#fff" fill-opacity="0.45"/>
<circle cx="82.44" cy="226.83" r="2.1" fill="#2196f0"/>
<circle cx="81.84" cy="226.23" r="0.95" fill="#fff" fill-opacity="0.45"/>
<circle cx="88.77" cy="231.08" r="2.1" fill="#2196f0"/>
<circle cx="88.17" cy="230.48" r="0.95" fill="#fff" fill-opacity="0.45"/>
<circle cx="95.10" cy="237.55" r="2.1" fill="#2196f0"/>
<circle cx="94.50" cy="236.95" r="0.95" fill="#fff" fill-opacity="0.45"/>
<circle cx="107.77" cy="246.39" r="2.1" fill="#2196f0"/>
<circle cx="107.17" cy="245.79" r="0.95" fill="#fff" fill-opacity="0.45"/>
<circle cx="120.44" cy="258.81" r="2.1" fill="#2196f0"/>
<circle cx="119.84" cy="258.21" r="0.95" fill="#fff" fill-opacity="0.45"/>
<circle cx="133.10" cy="281.44" r="2.1" fill="#2196f0"/>
<circle cx="132.50" cy="280.84" r="0.95" fill="#fff" fill-opacity="0.45"/>
<circle cx="209.11" cy="310.53" r="2.1" fill="#2196f0"/>
<circle cx="208.51" cy="309.93" r="0.95" fill="#fff" fill-opacity="0.45"/>
<circle cx="63.43" cy="202.67" r="2.1" fill="#1fcf1f"/>
<circle cx="62.83" cy="202.07" r="0.95" fill="#fff" fill-opacity="0.45"/>
<circle cx="69.77" cy="206.42" r="2.1" fill="#1fcf1f"/>
<circle cx="69.17" cy="205.82" r="0.95" fill="#fff" fill-opacity="0.45"/>
<circle cx="76.10" cy="211.52" r="2.1" fill="#1fcf1f"/>
<circle cx="75.50" cy="210.92" r="0.95" fill="#fff" fill-opacity="0.45"/>
<circle cx="82.44" cy="214.92" r="2.1" fill="#1fcf1f"/>
<circle cx="81.84" cy="214.32" r="0.95" fill="#fff" fill-opacity="0.45"/>
<circle cx="88.77" cy="218.32" r="2.1" fill="#1fcf1f"/>
<circle cx="88.17" cy="217.72" r="0.95" fill="#fff" fill-opacity="0.45"/>
<circle cx="95.10" cy="221.73" r="2.1" fill="#1fcf1f"/>
<circle cx="94.50" cy="221.13" r="0.95" fill="#fff" fill-opacity="0.45"/>
<circle cx="107.77" cy="228.53" r="2.1" fill="#1fcf1f"/>
<circle cx="107.17" cy="227.93" r="0.95" fill="#fff" fill-opacity="0.45"/>
<circle cx="120.44" cy="242.14" r="2.1" fill="#1fcf1f"/>
<circle cx="119.84" cy="241.54" r="0.95" fill="#fff" fill-opacity="0.45"/>
<circle cx="133.10" cy="248.95" r="2.1" fill="#1fcf1f"/>
<circle cx="132.50" cy="248.35" r="0.95" fill="#fff" fill-opacity="0.45"/>
<circle cx="209.11" cy="313.08" r="2.1" fill="#1fcf1f"/>
<circle cx="208.51" cy="312.48" r="0.95" fill="#fff" fill-opacity="0.45"/>
<circle cx="63.43" cy="197.74" r="2.1" fill="#f04848"/>
<circle cx="62.83" cy="197.14" r="0.95" fill="#fff" fill-opacity="0.45"/>
<circle cx="69.77" cy="201.65" r="2.1" fill="#f04848"/>
<circle cx="69.17" cy="201.05" r="0.95" fill="#fff" fill-opacity="0.45"/>
<circle cx="76.10" cy="204.71" r="2.1" fill="#f04848"/>
<circle cx="75.50" cy="204.11" r="0.95" fill="#fff" fill-opacity="0.45"/>
<circle cx="82.44" cy="208.80" r="2.1" fill="#f04848"/>
<circle cx="81.84" cy="208.20" r="0.95" fill="#fff" fill-opacity="0.45"/>
<circle cx="88.77" cy="213.56" r="2.1" fill="#f04848"/>
<circle cx="88.17" cy="212.96" r="0.95" fill="#fff" fill-opacity="0.45"/>
<circle cx="95.10" cy="219.17" r="2.1" fill="#f04848"/>
<circle cx="94.50" cy="218.57" r="0.95" fill="#fff" fill-opacity="0.45"/>
<circle cx="107.77" cy="227.34" r="2.1" fill="#f04848"/>
<circle cx="107.17" cy="226.74" r="0.95" fill="#fff" fill-opacity="0.45"/>
<circle cx="120.44" cy="239.59" r="2.1" fill="#f04848"/>
<circle cx="119.84" cy="238.99" r="0.95" fill="#fff" fill-opacity="0.45"/>
<circle cx="133.10" cy="262.22" r="2.1" fill="#f04848"/>
<circle cx="132.50" cy="261.62" r="0.95" fill="#fff" fill-opacity="0.45"/>
<circle cx="209.11" cy="294.88" r="2.1" fill="#f04848"/>
<circle cx="208.51" cy="294.28" r="0.95" fill="#fff" fill-opacity="0.45"/>
<rect x="46.70" y="186.00" width="179.30" height="144.20" fill="none" stroke="#555" stroke-width="1"/>
<line x1="43.70" y1="322.10" x2="46.70" y2="322.10" stroke="#555" stroke-width="1"/>
<line x1="43.70" y1="305.09" x2="46.70" y2="305.09" stroke="#555" stroke-width="1"/>
<line x1="43.70" y1="288.08" x2="46.70" y2="288.08" stroke="#555" stroke-width="1"/>
<line x1="43.70" y1="271.06" x2="46.70" y2="271.06" stroke="#555" stroke-width="1"/>
<line x1="43.70" y1="254.05" x2="46.70" y2="254.05" stroke="#555" stroke-width="1"/>
<line x1="43.70" y1="237.04" x2="46.70" y2="237.04" stroke="#555" stroke-width="1"/>
<line x1="43.70" y1="220.03" x2="46.70" y2="220.03" stroke="#555" stroke-width="1"/>
<line x1="43.70" y1="203.01" x2="46.70" y2="203.01" stroke="#555" stroke-width="1"/>
<line x1="43.70" y1="186.00" x2="46.70" y2="186.00" stroke="#555" stroke-width="1"/>
<line x1="44.70" y1="330.61" x2="46.70" y2="330.61" stroke="#555" stroke-width="0.8"/>
<line x1="44.70" y1="313.59" x2="46.70" y2="313.59" stroke="#555" stroke-width="0.8"/>
<line x1="44.70" y1="296.58" x2="46.70" y2="296.58" stroke="#555" stroke-width="0.8"/>
<line x1="44.70" y1="279.57" x2="46.70" y2="279.57" stroke="#555" stroke-width="0.8"/>
<line x1="44.70" y1="262.56" x2="46.70" y2="262.56" stroke="#555" stroke-width="0.8"/>
<line x1="44.70" y1="245.54" x2="46.70" y2="245.54" stroke="#555" stroke-width="0.8"/>
<line x1="44.70" y1="228.53" x2="46.70" y2="228.53" stroke="#555" stroke-width="0.8"/>
<line x1="44.70" y1="211.52" x2="46.70" y2="211.52" stroke="#555" stroke-width="0.8"/>
<line x1="44.70" y1="194.51" x2="46.70" y2="194.51" stroke="#555" stroke-width="0.8"/>
<text transform="translate(42.20,325.10) scale(1,1.05)" font-size="9.312" text-anchor="end" font-weight="bold" font-family="Liberation Sans" fill="#111" >-2</text>
<text transform="translate(42.20,308.09) scale(1,1.05)" font-size="9.312" text-anchor="end" font-weight="bold" font-family="Liberation Sans" fill="#111" >-1</text>
<text transform="translate(42.20,291.08) scale(1,1.05)" font-size="9.312" text-anchor="end" font-weight="bold" font-family="Liberation Sans" fill="#111" >0</text>
<text transform="translate(42.20,274.06) scale(1,1.05)" font-size="9.312" text-anchor="end" font-weight="bold" font-family="Liberation Sans" fill="#111" >1</text>
<text transform="translate(42.20,257.05) scale(1,1.05)" font-size="9.312" text-anchor="end" font-weight="bold" font-family="Liberation Sans" fill="#111" >2</text>
<text transform="translate(42.20,240.04) scale(1,1.05)" font-size="9.312" text-anchor="end" font-weight="bold" font-family="Liberation Sans" fill="#111" >3</text>
<text transform="translate(42.20,223.03) scale(1,1.05)" font-size="9.312" text-anchor="end" font-weight="bold" font-family="Liberation Sans" fill="#111" >4</text>
<text transform="translate(42.20,206.01) scale(1,1.05)" font-size="9.312" text-anchor="end" font-weight="bold" font-family="Liberation Sans" fill="#111" >5</text>
<text transform="translate(42.20,189.00) scale(1,1.05)" font-size="9.312" text-anchor="end" font-weight="bold" font-family="Liberation Sans" fill="#111" >6</text>
<line x1="57.10" y1="330.20" x2="57.10" y2="333.20" stroke="#555" stroke-width="1"/>
<line x1="78.21" y1="330.20" x2="78.21" y2="333.20" stroke="#555" stroke-width="1"/>
<line x1="99.33" y1="330.20" x2="99.33" y2="333.20" stroke="#555" stroke-width="1"/>
<line x1="120.44" y1="330.20" x2="120.44" y2="333.20" stroke="#555" stroke-width="1"/>
<line x1="141.55" y1="330.20" x2="141.55" y2="333.20" stroke="#555" stroke-width="1"/>
<line x1="162.66" y1="330.20" x2="162.66" y2="333.20" stroke="#555" stroke-width="1"/>
<line x1="183.78" y1="330.20" x2="183.78" y2="333.20" stroke="#555" stroke-width="1"/>
<line x1="204.89" y1="330.20" x2="204.89" y2="333.20" stroke="#555" stroke-width="1"/>
<line x1="226.00" y1="330.20" x2="226.00" y2="333.20" stroke="#555" stroke-width="1"/>
<line x1="46.54" y1="330.20" x2="46.54" y2="332.20" stroke="#555" stroke-width="0.8"/>
<line x1="67.66" y1="330.20" x2="67.66" y2="332.20" stroke="#555" stroke-width="0.8"/>
<line x1="88.77" y1="330.20" x2="88.77" y2="332.20" stroke="#555" stroke-width="0.8"/>
<line x1="109.88" y1="330.20" x2="109.88" y2="332.20" stroke="#555" stroke-width="0.8"/>
<line x1="130.99" y1="330.20" x2="130.99" y2="332.20" stroke="#555" stroke-width="0.8"/>
<line x1="152.11" y1="330.20" x2="152.11" y2="332.20" stroke="#555" stroke-width="0.8"/>
<line x1="173.22" y1="330.20" x2="173.22" y2="332.20" stroke="#555" stroke-width="0.8"/>
<line x1="194.33" y1="330.20" x2="194.33" y2="332.20" stroke="#555" stroke-width="0.8"/>
<line x1="215.44" y1="330.20" x2="215.44" y2="332.20" stroke="#555" stroke-width="0.8"/>
<text transform="translate(57.10,341.70) scale(1,1.05)" font-size="8.341999999999999" text-anchor="middle" font-weight="bold" font-family="Liberation Sans" fill="#111" >0</text>
<text transform="translate(78.21,341.70) scale(1,1.05)" font-size="8.341999999999999" text-anchor="middle" font-weight="bold" font-family="Liberation Sans" fill="#111" >200</text>
<text transform="translate(99.33,341.70) scale(1,1.05)" font-size="8.341999999999999" text-anchor="middle" font-weight="bold" font-family="Liberation Sans" fill="#111" >400</text>
<text transform="translate(120.44,341.70) scale(1,1.05)" font-size="8.341999999999999" text-anchor="middle" font-weight="bold" font-family="Liberation Sans" fill="#111" >600</text>
<text transform="translate(141.55,341.70) scale(1,1.05)" font-size="8.341999999999999" text-anchor="middle" font-weight="bold" font-family="Liberation Sans" fill="#111" >800</text>
<text transform="translate(162.66,341.70) scale(1,1.05)" font-size="8.341999999999999" text-anchor="middle" font-weight="bold" font-family="Liberation Sans" fill="#111" >1000</text>
<text transform="translate(183.78,341.70) scale(1,1.05)" font-size="8.341999999999999" text-anchor="middle" font-weight="bold" font-family="Liberation Sans" fill="#111" >1200</text>
<text transform="translate(204.89,341.70) scale(1,1.05)" font-size="8.341999999999999" text-anchor="middle" font-weight="bold" font-family="Liberation Sans" fill="#111" >1400</text>
<text transform="translate(226.00,341.70) scale(1,1.05)" font-size="8.341999999999999" text-anchor="middle" font-weight="bold" font-family="Liberation Sans" fill="#111" >1600</text>
<text x="136.20" y="355.70" font-size="10.5" text-anchor="middle" font-weight="bold" font-family="Liberation Sans" fill="#111" >Time (min)</text>
<text transform="translate(28.70,257.90) rotate(-90)" font-size="10.5" text-anchor="middle" font-weight="bold" font-family="Liberation Sans" fill="#111">ln (q<tspan font-size="7" baseline-shift="-2">e</tspan>-q<tspan font-size="7" baseline-shift="-2">t</tspan>)</text>
<text x="2.50" y="191.80" font-size="18" text-anchor="start" font-weight="bold" font-family="Liberation Serif" fill="#111" >(d)</text>
<circle cx="187.70" cy="192.30" r="2.0" fill="#2196f0"/>
<circle cx="187.10" cy="191.70" r="0.90" fill="#fff" fill-opacity="0.45"/>
<text transform="translate(194.90,195.00) scale(1,1.1)" font-size="8.2" text-anchor="start" font-weight="bold" font-family="Liberation Sans" fill="#111" >6 ppm</text>
<circle cx="187.70" cy="202.70" r="2.0" fill="#1fcf1f"/>
<circle cx="187.10" cy="202.10" r="0.90" fill="#fff" fill-opacity="0.45"/>
<text transform="translate(194.90,205.40) scale(1,1.1)" font-size="8.2" text-anchor="start" font-weight="bold" font-family="Liberation Sans" fill="#111" >10 ppm</text>
<circle cx="187.70" cy="213.10" r="2.0" fill="#f04848"/>
<circle cx="187.10" cy="212.50" r="0.90" fill="#fff" fill-opacity="0.45"/>
<text transform="translate(194.90,215.80) scale(1,1.1)" font-size="8.2" text-anchor="start" font-weight="bold" font-family="Liberation Sans" fill="#111" >14 ppm</text>
<polyline points="280.40,323.80 350.59,274.78" fill="none" stroke="#2196f0" stroke-width="1.3"/>
<polyline points="369.26,267.78 434.18,263.72" fill="none" stroke="#2196f0" stroke-width="1.3"/>
<polyline points="280.40,323.80 350.59,259.30" fill="none" stroke="#1fcf1f" stroke-width="1.3"/>
<polyline points="369.26,248.24 434.18,236.45" fill="none" stroke="#1fcf1f" stroke-width="1.3"/>
<polyline points="280.40,323.80 350.59,240.50" fill="none" stroke="#f04848" stroke-width="1.3"/>
<polyline points="369.26,222.44 434.18,205.49" fill="none" stroke="#f04848" stroke-width="1.3"/>
<circle cx="280.40" cy="323.80" r="2.1" fill="#2196f0"/>
<circle cx="279.80" cy="323.20" r="0.95" fill="#fff" fill-opacity="0.45"/>
<circle cx="311.85" cy="299.84" r="2.1" fill="#2196f0"/>
<circle cx="311.25" cy="299.24" r="0.95" fill="#fff" fill-opacity="0.45"/>
<circle cx="334.77" cy="284.36" r="2.1" fill="#2196f0"/>
<circle cx="334.17" cy="283.76" r="0.95" fill="#fff" fill-opacity="0.45"/>
<circle cx="350.59" cy="274.78" r="2.1" fill="#2196f0"/>
<circle cx="349.99" cy="274.18" r="0.95" fill="#fff" fill-opacity="0.45"/>
<circle cx="369.26" cy="268.51" r="2.1" fill="#2196f0"/>
<circle cx="368.66" cy="267.91" r="0.95" fill="#fff" fill-opacity="0.45"/>
<circle cx="389.14" cy="264.83" r="2.1" fill="#2196f0"/>
<circle cx="388.54" cy="264.23" r="0.95" fill="#fff" fill-opacity="0.45"/>
<circle cx="413.89" cy="264.83" r="2.1" fill="#2196f0"/>
<circle cx="413.29" cy="264.23" r="0.95" fill="#fff" fill-opacity="0.45"/>
<circle cx="434.18" cy="264.09" r="2.1" fill="#2196f0"/>
<circle cx="433.58" cy="263.49" r="0.95" fill="#fff" fill-opacity="0.45"/>
<circle cx="280.40" cy="323.80" r="2.1" fill="#1fcf1f"/>
<circle cx="279.80" cy="323.20" r="0.95" fill="#fff" fill-opacity="0.45"/>
<circle cx="311.85" cy="292.47" r="2.1" fill="#1fcf1f"/>
<circle cx="311.25" cy="291.87" r="0.95" fill="#fff" fill-opacity="0.45"/>
<circle cx="334.77" cy="271.09" r="2.1" fill="#1fcf1f"/>
<circle cx="334.17" cy="270.49" r="0.95" fill="#fff" fill-opacity="0.45"/>
<circle cx="350.59" cy="259.30" r="2.1" fill="#1fcf1f"/>
<circle cx="349.99" cy="258.70" r="0.95" fill="#fff" fill-opacity="0.45"/>
<circle cx="369.26" cy="250.09" r="2.1" fill="#1fcf1f"/>
<circle cx="368.66" cy="249.49" r="0.95" fill="#fff" fill-opacity="0.45"/>
<circle cx="389.14" cy="241.61" r="2.1" fill="#1fcf1f"/>
<circle cx="388.54" cy="241.01" r="0.95" fill="#fff" fill-opacity="0.45"/>
<circle cx="413.89" cy="239.03" r="2.1" fill="#1fcf1f"/>
<circle cx="413.29" cy="238.43" r="0.95" fill="#fff" fill-opacity="0.45"/>
<circle cx="434.18" cy="237.55" r="2.1" fill="#1fcf1f"/>
<circle cx="433.58" cy="236.95" r="0.95" fill="#fff" fill-opacity="0.45"/>
<circle cx="280.40" cy="323.80" r="2.1" fill="#f04848"/>
<circle cx="279.80" cy="323.20" r="0.95" fill="#fff" fill-opacity="0.45"/>
<circle cx="311.85" cy="285.10" r="2.1" fill="#f04848"/>
<circle cx="311.25" cy="284.50" r="0.95" fill="#fff" fill-opacity="0.45"/>
<circle cx="334.77" cy="261.14" r="2.1" fill="#f04848"/>
<circle cx="334.17" cy="260.54" r="0.95" fill="#fff" fill-opacity="0.45"/>
<circle cx="350.59" cy="240.50" r="2.1" fill="#f04848"/>
<circle cx="349.99" cy="239.90" r="0.95" fill="#fff" fill-opacity="0.45"/>
<circle cx="369.26" cy="224.29" r="2.1" fill="#f04848"/>
<circle cx="368.66" cy="223.69" r="0.95" fill="#fff" fill-opacity="0.45"/>
<circle cx="389.14" cy="213.23" r="2.1" fill="#f04848"/>
<circle cx="388.54" cy="212.63" r="0.95" fill="#fff" fill-opacity="0.45"/>
<circle cx="413.89" cy="212.12" r="2.1" fill="#f04848"/>
<circle cx="413.29" cy="211.52" r="0.95" fill="#fff" fill-opacity="0.45"/>
<circle cx="434.18" cy="205.86" r="2.1" fill="#f04848"/>
<circle cx="433.58" cy="205.26" r="0.95" fill="#fff" fill-opacity="0.45"/>
<rect x="272.50" y="186.30" width="180.90" height="145.30" fill="none" stroke="#555" stroke-width="1"/>
<line x1="269.50" y1="323.80" x2="272.50" y2="323.80" stroke="#555" stroke-width="1"/>
<line x1="269.50" y1="305.37" x2="272.50" y2="305.37" stroke="#555" stroke-width="1"/>
<line x1="269.50" y1="286.94" x2="272.50" y2="286.94" stroke="#555" stroke-width="1"/>
<line x1="269.50" y1="268.51" x2="272.50" y2="268.51" stroke="#555" stroke-width="1"/>
<line x1="269.50" y1="250.09" x2="272.50" y2="250.09" stroke="#555" stroke-width="1"/>
<line x1="269.50" y1="231.66" x2="272.50" y2="231.66" stroke="#555" stroke-width="1"/>
<line x1="269.50" y1="213.23" x2="272.50" y2="213.23" stroke="#555" stroke-width="1"/>
<line x1="269.50" y1="194.80" x2="272.50" y2="194.80" stroke="#555" stroke-width="1"/>
<line x1="270.50" y1="314.59" x2="272.50" y2="314.59" stroke="#555" stroke-width="0.8"/>
<line x1="270.50" y1="296.16" x2="272.50" y2="296.16" stroke="#555" stroke-width="0.8"/>
<line x1="270.50" y1="277.73" x2="272.50" y2="277.73" stroke="#555" stroke-width="0.8"/>
<line x1="270.50" y1="259.30" x2="272.50" y2="259.30" stroke="#555" stroke-width="0.8"/>
<line x1="270.50" y1="240.87" x2="272.50" y2="240.87" stroke="#555" stroke-width="0.8"/>
<line x1="270.50" y1="222.44" x2="272.50" y2="222.44" stroke="#555" stroke-width="0.8"/>
<line x1="270.50" y1="204.01" x2="272.50" y2="204.01" stroke="#555" stroke-width="0.8"/>
<text transform="translate(268.00,326.80) scale(1,1.05)" font-size="9.312" text-anchor="end" font-weight="bold" font-family="Liberation Sans" fill="#111" >0</text>
<text transform="translate(268.00,308.37) scale(1,1.05)" font-size="9.312" text-anchor="end" font-weight="bold" font-family="Liberation Sans" fill="#111" >50</text>
<text transform="translate(268.00,289.94) scale(1,1.05)" font-size="9.312" text-anchor="end" font-weight="bold" font-family="Liberation Sans" fill="#111" >100</text>
<text transform="translate(268.00,271.51) scale(1,1.05)" font-size="9.312" text-anchor="end" font-weight="bold" font-family="Liberation Sans" fill="#111" >150</text>
<text transform="translate(268.00,253.09) scale(1,1.05)" font-size="9.312" text-anchor="end" font-weight="bold" font-family="Liberation Sans" fill="#111" >200</text>
<text transform="translate(268.00,234.66) scale(1,1.05)" font-size="9.312" text-anchor="end" font-weight="bold" font-family="Liberation Sans" fill="#111" >250</text>
<text transform="translate(268.00,216.23) scale(1,1.05)" font-size="9.312" text-anchor="end" font-weight="bold" font-family="Liberation Sans" fill="#111" >300</text>
<text transform="translate(268.00,197.80) scale(1,1.05)" font-size="9.312" text-anchor="end" font-weight="bold" font-family="Liberation Sans" fill="#111" >350</text>
<line x1="280.40" y1="331.60" x2="280.40" y2="334.60" stroke="#555" stroke-width="1"/>
<line x1="300.69" y1="331.60" x2="300.69" y2="334.60" stroke="#555" stroke-width="1"/>
<line x1="320.97" y1="331.60" x2="320.97" y2="334.60" stroke="#555" stroke-width="1"/>
<line x1="341.26" y1="331.60" x2="341.26" y2="334.60" stroke="#555" stroke-width="1"/>
<line x1="361.55" y1="331.60" x2="361.55" y2="334.60" stroke="#555" stroke-width="1"/>
<line x1="381.84" y1="331.60" x2="381.84" y2="334.60" stroke="#555" stroke-width="1"/>
<line x1="402.12" y1="331.60" x2="402.12" y2="334.60" stroke="#555" stroke-width="1"/>
<line x1="422.41" y1="331.60" x2="422.41" y2="334.60" stroke="#555" stroke-width="1"/>
<line x1="442.70" y1="331.60" x2="442.70" y2="334.60" stroke="#555" stroke-width="1"/>
<line x1="290.54" y1="331.60" x2="290.54" y2="333.60" stroke="#555" stroke-width="0.8"/>
<line x1="310.83" y1="331.60" x2="310.83" y2="333.60" stroke="#555" stroke-width="0.8"/>
<line x1="331.12" y1="331.60" x2="331.12" y2="333.60" stroke="#555" stroke-width="0.8"/>
<line x1="351.41" y1="331.60" x2="351.41" y2="333.60" stroke="#555" stroke-width="0.8"/>
<line x1="371.69" y1="331.60" x2="371.69" y2="333.60" stroke="#555" stroke-width="0.8"/>
<line x1="391.98" y1="331.60" x2="391.98" y2="333.60" stroke="#555" stroke-width="0.8"/>
<line x1="412.27" y1="331.60" x2="412.27" y2="333.60" stroke="#555" stroke-width="0.8"/>
<line x1="432.56" y1="331.60" x2="432.56" y2="333.60" stroke="#555" stroke-width="0.8"/>
<line x1="452.84" y1="331.60" x2="452.84" y2="333.60" stroke="#555" stroke-width="0.8"/>
<text transform="translate(280.40,343.10) scale(1,1.05)" font-size="9.118" text-anchor="middle" font-weight="bold" font-family="Liberation Sans" fill="#111" >0</text>
<text transform="translate(300.69,343.10) scale(1,1.05)" font-size="9.118" text-anchor="middle" font-weight="bold" font-family="Liberation Sans" fill="#111" >5</text>
<text transform="translate(320.97,343.10) scale(1,1.05)" font-size="9.118" text-anchor="middle" font-weight="bold" font-family="Liberation Sans" fill="#111" >10</text>
<text transform="translate(341.26,343.10) scale(1,1.05)" font-size="9.118" text-anchor="middle" font-weight="bold" font-family="Liberation Sans" fill="#111" >15</text>
<text transform="translate(361.55,343.10) scale(1,1.05)" font-size="9.118" text-anchor="middle" font-weight="bold" font-family="Liberation Sans" fill="#111" >20</text>
<text transform="translate(381.84,343.10) scale(1,1.05)" font-size="9.118" text-anchor="middle" font-weight="bold" font-family="Liberation Sans" fill="#111" >25</text>
<text transform="translate(402.12,343.10) scale(1,1.05)" font-size="9.118" text-anchor="middle" font-weight="bold" font-family="Liberation Sans" fill="#111" >30</text>
<text transform="translate(422.41,343.10) scale(1,1.05)" font-size="9.118" text-anchor="middle" font-weight="bold" font-family="Liberation Sans" fill="#111" >35</text>
<text transform="translate(442.70,343.10) scale(1,1.05)" font-size="9.118" text-anchor="middle" font-weight="bold" font-family="Liberation Sans" fill="#111" >40</text>
<text x="361.40" y="359.00" font-size="10.5" text-anchor="middle" font-weight="bold" font-family="Liberation Sans" fill="#111" >t<tspan font-size="7.2" baseline-shift="3.5">1/2</tspan> (min<tspan font-size="7.2" baseline-shift="3.5">1/2</tspan>)</text>
<text transform="translate(244.40,258.90) rotate(-90)" font-size="10.5" text-anchor="middle" font-weight="bold" font-family="Liberation Sans" fill="#111">q<tspan font-size="7" baseline-shift="-2">e</tspan> (mg·g<tspan font-size="6.5" baseline-shift="3.5">-1</tspan>)</text>
<text x="231.00" y="191.60" font-size="18" text-anchor="start" font-weight="bold" font-family="Liberation Serif" fill="#111" >(e)</text>
<circle cx="281.70" cy="194.00" r="2.0" fill="#2196f0"/>
<circle cx="281.10" cy="193.40" r="0.90" fill="#fff" fill-opacity="0.45"/>
<text transform="translate(288.90,196.70) scale(1,1.1)" font-size="8.2" text-anchor="start" font-weight="bold" font-family="Liberation Sans" fill="#111" >6 ppm</text>
<circle cx="281.70" cy="204.40" r="2.0" fill="#1fcf1f"/>
<circle cx="281.10" cy="203.80" r="0.90" fill="#fff" fill-opacity="0.45"/>
<text transform="translate(288.90,207.10) scale(1,1.1)" font-size="8.2" text-anchor="start" font-weight="bold" font-family="Liberation Sans" fill="#111" >10 ppm</text>
<circle cx="281.70" cy="214.80" r="2.0" fill="#f04848"/>
<circle cx="281.10" cy="214.20" r="0.90" fill="#fff" fill-opacity="0.45"/>
<text transform="translate(288.90,217.50) scale(1,1.1)" font-size="8.2" text-anchor="start" font-weight="bold" font-family="Liberation Sans" fill="#111" >14 ppm</text>
<polyline points="507.32,324.80 508.82,323.00 510.32,321.23 511.83,319.50 513.33,317.80 514.83,316.13 516.34,314.49 517.84,312.88 519.34,311.30 520.84,309.75 522.35,308.22 523.85,306.72 525.35,305.25 526.85,303.80 528.36,302.38 529.86,300.98 531.36,299.61 532.86,298.26 534.37,296.93 535.87,295.62 537.37,294.33 538.87,293.07 540.38,291.82 541.88,290.59 543.38,289.39 544.88,288.20 546.38,287.03 547.89,285.88 549.39,284.74 550.89,283.63 552.39,282.53 553.90,281.44 555.40,280.38 556.90,279.32 558.40,278.29 559.91,277.27 561.41,276.26 562.91,275.27 564.41,274.29 565.92,273.32 567.42,272.37 568.92,271.43 570.42,270.51 571.93,269.59 573.43,268.69 574.93,267.81 576.44,266.93 577.94,266.07 579.44,265.21 580.94,264.37 582.45,263.54 583.95,262.72 585.45,261.91 586.95,261.11 588.46,260.32 589.96,259.54 591.46,258.77 592.96,258.01 594.47,257.26 595.97,256.52 597.47,255.79 598.97,255.07 600.48,254.35 601.98,253.65 603.48,252.95 604.98,252.26 606.49,251.58 607.99,250.91 609.49,250.24 610.99,249.59 612.50,248.94 614.00,248.29 615.50,247.66 617.00,247.03 618.50,246.41 620.01,245.80 621.51,245.19 623.01,244.59 624.51,244.00 626.02,243.41 627.52,242.83 629.02,242.26 630.53,241.69 632.03,241.13 633.53,240.57 635.03,240.02 636.54,239.48 638.04,238.94 639.54,238.41 641.04,237.88 642.55,237.36 644.05,236.84 645.55,236.33 647.05,235.82 648.56,235.32 650.06,234.83 651.56,234.34" fill="none" stroke="#2196f0" stroke-width="1.3"/>
<polyline points="507.32,319.58 508.82,317.26 510.32,314.99 511.83,312.78 513.33,310.63 514.83,308.53 516.34,306.47 517.84,304.47 519.34,302.51 520.84,300.60 522.35,298.74 523.85,296.91 525.35,295.13 526.85,293.38 528.36,291.67 529.86,290.00 531.36,288.37 532.86,286.77 534.37,285.20 535.87,283.67 537.37,282.16 538.87,280.69 540.38,279.25 541.88,277.83 543.38,276.45 544.88,275.09 546.38,273.76 547.89,272.45 549.39,271.17 550.89,269.91 552.39,268.67 553.90,267.46 555.40,266.27 556.90,265.10 558.40,263.95 559.91,262.83 561.41,261.72 562.91,260.63 564.41,259.56 565.92,258.51 567.42,257.48 568.92,256.46 570.42,255.46 571.93,254.48 573.43,253.51 574.93,252.56 576.44,251.63 577.94,250.71 579.44,249.80 580.94,248.91 582.45,248.04 583.95,247.17 585.45,246.32 586.95,245.49 588.46,244.66 589.96,243.85 591.46,243.05 592.96,242.26 594.47,241.49 595.97,240.72 597.47,239.97 598.97,239.23 600.48,238.49 601.98,237.77 603.48,237.06 604.98,236.36 606.49,235.67 607.99,234.99 609.49,234.31 610.99,233.65 612.50,232.99 614.00,232.35 615.50,231.71 617.00,231.08 618.50,230.46 620.01,229.85 621.51,229.25 623.01,228.65 624.51,228.06 626.02,227.48 627.52,226.91 629.02,226.34 630.53,225.78 632.03,225.23 633.53,224.68 635.03,224.14 636.54,223.61 638.04,223.08 639.54,222.56 641.04,222.05 642.55,221.54 644.05,221.04 645.55,220.55 647.05,220.06 648.56,219.57 650.06,219.10 651.56,218.62" fill="none" stroke="#1fcf1f" stroke-width="1.3"/>
<polyline points="507.32,314.47 508.82,311.64 510.32,308.89 511.83,306.22 513.33,303.62 514.83,301.10 516.34,298.65 517.84,296.26 519.34,293.94 520.84,291.68 522.35,289.48 523.85,287.33 525.35,285.24 526.85,283.20 528.36,281.22 529.86,279.28 531.36,277.38 532.86,275.54 534.37,273.73 535.87,271.97 537.37,270.25 538.87,268.57 540.38,266.92 541.88,265.32 543.38,263.74 544.88,262.20 546.38,260.70 547.89,259.23 549.39,257.79 550.89,256.37 552.39,254.99 553.90,253.64 555.40,252.31 556.90,251.01 558.40,249.74 559.91,248.49 561.41,247.26 562.91,246.06 564.41,244.88 565.92,243.72 567.42,242.59 568.92,241.48 570.42,240.38 571.93,239.31 573.43,238.26 574.93,237.22 576.44,236.20 577.94,235.21 579.44,234.22 580.94,233.26 582.45,232.31 583.95,231.38 585.45,230.46 586.95,229.56 588.46,228.68 589.96,227.81 591.46,226.95 592.96,226.10 594.47,225.27 595.97,224.46 597.47,223.65 598.97,222.86 600.48,222.08 601.98,221.32 603.48,220.56 604.98,219.82 606.49,219.09 607.99,218.36 609.49,217.65 610.99,216.95 612.50,216.26 614.00,215.58 615.50,214.91 617.00,214.25 618.50,213.60 620.01,212.96 621.51,212.32 623.01,211.70 624.51,211.08 626.02,210.48 627.52,209.88 629.02,209.29 630.53,208.70 632.03,208.13 633.53,207.56 635.03,207.00 636.54,206.45 638.04,205.90 639.54,205.36 641.04,204.83 642.55,204.31 644.05,203.79 645.55,203.28 647.05,202.77 648.56,202.27 650.06,201.78 651.56,201.29" fill="none" stroke="#f04848" stroke-width="1.3"/>
<circle cx="507.32" cy="323.49" r="2.1" fill="#2196f0"/>
<circle cx="506.72" cy="322.89" r="0.95" fill="#fff" fill-opacity="0.45"/>
<circle cx="519.34" cy="310.41" r="2.1" fill="#2196f0"/>
<circle cx="518.74" cy="309.81" r="0.95" fill="#fff" fill-opacity="0.45"/>
<circle cx="537.37" cy="291.51" r="2.1" fill="#2196f0"/>
<circle cx="536.77" cy="290.91" r="0.95" fill="#fff" fill-opacity="0.45"/>
<circle cx="579.44" cy="264.25" r="2.1" fill="#2196f0"/>
<circle cx="578.84" cy="263.65" r="0.95" fill="#fff" fill-opacity="0.45"/>
<circle cx="651.56" cy="234.09" r="2.1" fill="#2196f0"/>
<circle cx="650.96" cy="233.49" r="0.95" fill="#fff" fill-opacity="0.45"/>
<circle cx="507.32" cy="320.58" r="2.1" fill="#1fcf1f"/>
<circle cx="506.72" cy="319.98" r="0.95" fill="#fff" fill-opacity="0.45"/>
<circle cx="519.34" cy="301.68" r="2.1" fill="#1fcf1f"/>
<circle cx="518.74" cy="301.08" r="0.95" fill="#fff" fill-opacity="0.45"/>
<circle cx="537.37" cy="281.70" r="2.1" fill="#1fcf1f"/>
<circle cx="536.77" cy="281.10" r="0.95" fill="#fff" fill-opacity="0.45"/>
<circle cx="579.44" cy="249.71" r="2.1" fill="#1fcf1f"/>
<circle cx="578.84" cy="249.11" r="0.95" fill="#fff" fill-opacity="0.45"/>
<circle cx="651.56" cy="221.00" r="2.1" fill="#1fcf1f"/>
<circle cx="650.96" cy="220.40" r="0.95" fill="#fff" fill-opacity="0.45"/>
<circle cx="507.32" cy="314.04" r="2.1" fill="#f04848"/>
<circle cx="506.72" cy="313.44" r="0.95" fill="#fff" fill-opacity="0.45"/>
<circle cx="519.34" cy="294.78" r="2.1" fill="#f04848"/>
<circle cx="518.74" cy="294.18" r="0.95" fill="#fff" fill-opacity="0.45"/>
<circle cx="537.37" cy="271.52" r="2.1" fill="#f04848"/>
<circle cx="536.77" cy="270.92" r="0.95" fill="#fff" fill-opacity="0.45"/>
<circle cx="579.44" cy="234.81" r="2.1" fill="#f04848"/>
<circle cx="578.84" cy="234.21" r="0.95" fill="#fff" fill-opacity="0.45"/>
<circle cx="651.56" cy="202.83" r="2.1" fill="#f04848"/>
<circle cx="650.96" cy="202.23" r="0.95" fill="#fff" fill-opacity="0.45"/>
<rect x="495.30" y="186.30" width="180.30" height="145.00" fill="none" stroke="#555" stroke-width="1"/>
<line x1="492.30" y1="322.40" x2="495.30" y2="322.40" stroke="#555" stroke-width="1"/>
<line x1="492.30" y1="304.23" x2="495.30" y2="304.23" stroke="#555" stroke-width="1"/>
<line x1="492.30" y1="286.06" x2="495.30" y2="286.06" stroke="#555" stroke-width="1"/>
<line x1="492.30" y1="267.89" x2="495.30" y2="267.89" stroke="#555" stroke-width="1"/>
<line x1="492.30" y1="249.71" x2="495.30" y2="249.71" stroke="#555" stroke-width="1"/>
<line x1="492.30" y1="231.54" x2="495.30" y2="231.54" stroke="#555" stroke-width="1"/>
<line x1="492.30" y1="213.37" x2="495.30" y2="213.37" stroke="#555" stroke-width="1"/>
<line x1="492.30" y1="195.20" x2="495.30" y2="195.20" stroke="#555" stroke-width="1"/>
<line x1="493.30" y1="313.31" x2="495.30" y2="313.31" stroke="#555" stroke-width="0.8"/>
<line x1="493.30" y1="295.14" x2="495.30" y2="295.14" stroke="#555" stroke-width="0.8"/>
<line x1="493.30" y1="276.97" x2="495.30" y2="276.97" stroke="#555" stroke-width="0.8"/>
<line x1="493.30" y1="258.80" x2="495.30" y2="258.80" stroke="#555" stroke-width="0.8"/>
<line x1="493.30" y1="240.63" x2="495.30" y2="240.63" stroke="#555" stroke-width="0.8"/>
<line x1="493.30" y1="222.46" x2="495.30" y2="222.46" stroke="#555" stroke-width="0.8"/>
<line x1="493.30" y1="204.29" x2="495.30" y2="204.29" stroke="#555" stroke-width="0.8"/>
<line x1="493.30" y1="186.11" x2="495.30" y2="186.11" stroke="#555" stroke-width="0.8"/>
<text transform="translate(490.80,325.40) scale(1,1.05)" font-size="9.312" text-anchor="end" font-weight="bold" font-family="Liberation Sans" fill="#111" >50</text>
<text transform="translate(490.80,307.23) scale(1,1.05)" font-size="9.312" text-anchor="end" font-weight="bold" font-family="Liberation Sans" fill="#111" >100</text>
<text transform="translate(490.80,289.06) scale(1,1.05)" font-size="9.312" text-anchor="end" font-weight="bold" font-family="Liberation Sans" fill="#111" >150</text>
<text transform="translate(490.80,270.89) scale(1,1.05)" font-size="9.312" text-anchor="end" font-weight="bold" font-family="Liberation Sans" fill="#111" >200</text>
<text transform="translate(490.80,252.71) scale(1,1.05)" font-size="9.312" text-anchor="end" font-weight="bold" font-family="Liberation Sans" fill="#111" >250</text>
<text transform="translate(490.80,234.54) scale(1,1.05)" font-size="9.312" text-anchor="end" font-weight="bold" font-family="Liberation Sans" fill="#111" >300</text>
<text transform="translate(490.80,216.37) scale(1,1.05)" font-size="9.312" text-anchor="end" font-weight="bold" font-family="Liberation Sans" fill="#111" >350</text>
<text transform="translate(490.80,198.20) scale(1,1.05)" font-size="9.312" text-anchor="end" font-weight="bold" font-family="Liberation Sans" fill="#111" >400</text>
<line x1="495.30" y1="331.30" x2="495.30" y2="334.30" stroke="#555" stroke-width="1"/>
<line x1="525.35" y1="331.30" x2="525.35" y2="334.30" stroke="#555" stroke-width="1"/>
<line x1="555.40" y1="331.30" x2="555.40" y2="334.30" stroke="#555" stroke-width="1"/>
<line x1="585.45" y1="331.30" x2="585.45" y2="334.30" stroke="#555" stroke-width="1"/>
<line x1="615.50" y1="331.30" x2="615.50" y2="334.30" stroke="#555" stroke-width="1"/>
<line x1="645.55" y1="331.30" x2="645.55" y2="334.30" stroke="#555" stroke-width="1"/>
<line x1="675.60" y1="331.30" x2="675.60" y2="334.30" stroke="#555" stroke-width="1"/>
<line x1="510.32" y1="331.30" x2="510.32" y2="333.30" stroke="#555" stroke-width="0.8"/>
<line x1="540.38" y1="331.30" x2="540.38" y2="333.30" stroke="#555" stroke-width="0.8"/>
<line x1="570.42" y1="331.30" x2="570.42" y2="333.30" stroke="#555" stroke-width="0.8"/>
<line x1="600.48" y1="331.30" x2="600.48" y2="333.30" stroke="#555" stroke-width="0.8"/>
<line x1="630.53" y1="331.30" x2="630.53" y2="333.30" stroke="#555" stroke-width="0.8"/>
<line x1="660.58" y1="331.30" x2="660.58" y2="333.30" stroke="#555" stroke-width="0.8"/>
<text transform="translate(495.30,344.20) scale(1,1.05)" font-size="9.312" text-anchor="middle" font-weight="bold" font-family="Liberation Sans" fill="#111" >0</text>
<text transform="translate(525.35,344.20) scale(1,1.05)" font-size="9.312" text-anchor="middle" font-weight="bold" font-family="Liberation Sans" fill="#111" >5</text>
<text transform="translate(555.40,344.20) scale(1,1.05)" font-size="9.312" text-anchor="middle" font-weight="bold" font-family="Liberation Sans" fill="#111" >10</text>
<text transform="translate(585.45,344.20) scale(1,1.05)" font-size="9.312" text-anchor="middle" font-weight="bold" font-family="Liberation Sans" fill="#111" >15</text>
<text transform="translate(615.50,344.20) scale(1,1.05)" font-size="9.312" text-anchor="middle" font-weight="bold" font-family="Liberation Sans" fill="#111" >20</text>
<text transform="translate(645.55,344.20) scale(1,1.05)" font-size="9.312" text-anchor="middle" font-weight="bold" font-family="Liberation Sans" fill="#111" >25</text>
<text transform="translate(675.60,344.20) scale(1,1.05)" font-size="9.312" text-anchor="middle" font-weight="bold" font-family="Liberation Sans" fill="#111" >30</text>
<text x="585.50" y="359.00" font-size="10.5" text-anchor="middle" font-weight="bold" font-family="Liberation Sans" fill="#111" >c<tspan font-size="7" baseline-shift="-2">e</tspan> (mg·L<tspan font-size="6.5" baseline-shift="3.5">-1</tspan>)</text>
<text transform="translate(468.80,259.50) rotate(-90)" font-size="10.5" text-anchor="middle" font-weight="bold" font-family="Liberation Sans" fill="#111">q<tspan font-size="7" baseline-shift="-2">e</tspan> (mg·g<tspan font-size="6.5" baseline-shift="3.5">-1</tspan>)</text>
<text x="457.30" y="193.50" font-size="18" text-anchor="start" font-weight="bold" font-family="Liberation Serif" fill="#111" >(f)</text>
<circle cx="505.40" cy="194.40" r="2.0" fill="#2196f0"/>
<circle cx="504.80" cy="193.80" r="0.90" fill="#fff" fill-opacity="0.45"/>
<text transform="translate(512.60,197.10) scale(1,1.1)" font-size="8.2" text-anchor="start" font-weight="bold" font-family="Liberation Sans" fill="#111" >298K</text>
<circle cx="505.40" cy="204.75" r="2.0" fill="#1fcf1f"/>
<circle cx="504.80" cy="204.15" r="0.90" fill="#fff" fill-opacity="0.45"/>
<text transform="translate(512.60,207.45) scale(1,1.1)" font-size="8.2" text-anchor="start" font-weight="bold" font-family="Liberation Sans" fill="#111" >308K</text>
<circle cx="505.40" cy="215.10" r="2.0" fill="#f04848"/>
<circle cx="504.80" cy="214.50" r="0.90" fill="#fff" fill-opacity="0.45"/>
<text transform="translate(512.60,217.80) scale(1,1.1)" font-size="8.2" text-anchor="start" font-weight="bold" font-family="Liberation Sans" fill="#111" >318K</text>
<polyline points="58.47,467.94 202.15,381.48" fill="none" stroke="#f04848" stroke-width="1.3"/>
<circle cx="58.47" cy="468.33" r="2.1" fill="#f04848"/>
<circle cx="57.87" cy="467.73" r="0.95" fill="#fff" fill-opacity="0.45"/>
<circle cx="70.45" cy="459.26" r="2.1" fill="#f04848"/>
<circle cx="69.85" cy="458.66" r="0.95" fill="#fff" fill-opacity="0.45"/>
<circle cx="88.41" cy="451.54" r="2.1" fill="#f04848"/>
<circle cx="87.81" cy="450.94" r="0.95" fill="#fff" fill-opacity="0.45"/>
<circle cx="130.31" cy="423.55" r="2.1" fill="#f04848"/>
<circle cx="129.71" cy="422.95" r="0.95" fill="#fff" fill-opacity="0.45"/>
<circle cx="202.15" cy="381.09" r="2.1" fill="#f04848"/>
<circle cx="201.55" cy="380.49" r="0.95" fill="#fff" fill-opacity="0.45"/>
<polyline points="58.47,484.35 202.15,400.39" fill="none" stroke="#1fcf1f" stroke-width="1.3"/>
<circle cx="58.47" cy="479.91" r="2.1" fill="#1fcf1f"/>
<circle cx="57.87" cy="479.31" r="0.95" fill="#fff" fill-opacity="0.45"/>
<circle cx="70.45" cy="479.52" r="2.1" fill="#1fcf1f"/>
<circle cx="69.85" cy="478.92" r="0.95" fill="#fff" fill-opacity="0.45"/>
<circle cx="88.41" cy="468.52" r="2.1" fill="#1fcf1f"/>
<circle cx="87.81" cy="467.92" r="0.95" fill="#fff" fill-opacity="0.45"/>
<circle cx="130.31" cy="443.82" r="2.1" fill="#1fcf1f"/>
<circle cx="129.71" cy="443.22" r="0.95" fill="#fff" fill-opacity="0.45"/>
<circle cx="202.15" cy="399.43" r="2.1" fill="#1fcf1f"/>
<circle cx="201.55" cy="398.83" r="0.95" fill="#fff" fill-opacity="0.45"/>
<polyline points="58.47,498.82 202.15,420.08" fill="none" stroke="#2196f0" stroke-width="1.3"/>
<circle cx="58.47" cy="499.21" r="2.1" fill="#3a74e6"/>
<circle cx="57.87" cy="498.61" r="0.95" fill="#fff" fill-opacity="0.45"/>
<circle cx="70.45" cy="490.14" r="2.1" fill="#3a74e6"/>
<circle cx="69.85" cy="489.54" r="0.95" fill="#fff" fill-opacity="0.45"/>
<circle cx="88.41" cy="481.07" r="2.1" fill="#3a74e6"/>
<circle cx="87.81" cy="480.47" r="0.95" fill="#fff" fill-opacity="0.45"/>
<circle cx="130.31" cy="459.26" r="2.1" fill="#3a74e6"/>
<circle cx="129.71" cy="458.66" r="0.95" fill="#fff" fill-opacity="0.45"/>
<circle cx="202.15" cy="419.69" r="2.1" fill="#3a74e6"/>
<circle cx="201.55" cy="419.09" r="0.95" fill="#fff" fill-opacity="0.45"/>
<rect x="46.50" y="368.30" width="179.60" height="145.00" fill="none" stroke="#555" stroke-width="1"/>
<line x1="43.50" y1="513.30" x2="46.50" y2="513.30" stroke="#555" stroke-width="1"/>
<line x1="43.50" y1="494.00" x2="46.50" y2="494.00" stroke="#555" stroke-width="1"/>
<line x1="43.50" y1="474.70" x2="46.50" y2="474.70" stroke="#555" stroke-width="1"/>
<line x1="43.50" y1="455.40" x2="46.50" y2="455.40" stroke="#555" stroke-width="1"/>
<line x1="43.50" y1="436.10" x2="46.50" y2="436.10" stroke="#555" stroke-width="1"/>
<line x1="43.50" y1="416.80" x2="46.50" y2="416.80" stroke="#555" stroke-width="1"/>
<line x1="43.50" y1="397.50" x2="46.50" y2="397.50" stroke="#555" stroke-width="1"/>
<line x1="43.50" y1="378.20" x2="46.50" y2="378.20" stroke="#555" stroke-width="1"/>
<line x1="44.50" y1="503.65" x2="46.50" y2="503.65" stroke="#555" stroke-width="0.8"/>
<line x1="44.50" y1="484.35" x2="46.50" y2="484.35" stroke="#555" stroke-width="0.8"/>
<line x1="44.50" y1="465.05" x2="46.50" y2="465.05" stroke="#555" stroke-width="0.8"/>
<line x1="44.50" y1="445.75" x2="46.50" y2="445.75" stroke="#555" stroke-width="0.8"/>
<line x1="44.50" y1="426.45" x2="46.50" y2="426.45" stroke="#555" stroke-width="0.8"/>
<line x1="44.50" y1="407.15" x2="46.50" y2="407.15" stroke="#555" stroke-width="0.8"/>
<line x1="44.50" y1="387.85" x2="46.50" y2="387.85" stroke="#555" stroke-width="0.8"/>
<line x1="44.50" y1="368.55" x2="46.50" y2="368.55" stroke="#555" stroke-width="0.8"/>
<text transform="translate(42.00,516.30) scale(1,1.05)" font-size="9.312" text-anchor="end" font-weight="bold" font-family="Liberation Sans" fill="#111" >0.02</text>
<text transform="translate(42.00,497.00) scale(1,1.05)" font-size="9.312" text-anchor="end" font-weight="bold" font-family="Liberation Sans" fill="#111" >0.03</text>
<text transform="translate(42.00,477.70) scale(1,1.05)" font-size="9.312" text-anchor="end" font-weight="bold" font-family="Liberation Sans" fill="#111" >0.04</text>
<text transform="translate(42.00,458.40) scale(1,1.05)" font-size="9.312" text-anchor="end" font-weight="bold" font-family="Liberation Sans" fill="#111" >0.05</text>
<text transform="translate(42.00,439.10) scale(1,1.05)" font-size="9.312" text-anchor="end" font-weight="bold" font-family="Liberation Sans" fill="#111" >0.06</text>
<text transform="translate(42.00,419.80) scale(1,1.05)" font-size="9.312" text-anchor="end" font-weight="bold" font-family="Liberation Sans" fill="#111" >0.07</text>
<text transform="translate(42.00,400.50) scale(1,1.05)" font-size="9.312" text-anchor="end" font-weight="bold" font-family="Liberation Sans" fill="#111" >0.08</text>
<text transform="translate(42.00,381.20) scale(1,1.05)" font-size="9.312" text-anchor="end" font-weight="bold" font-family="Liberation Sans" fill="#111" >0.09</text>
<line x1="46.50" y1="513.30" x2="46.50" y2="516.30" stroke="#555" stroke-width="1"/>
<line x1="76.43" y1="513.30" x2="76.43" y2="516.30" stroke="#555" stroke-width="1"/>
<line x1="106.37" y1="513.30" x2="106.37" y2="516.30" stroke="#555" stroke-width="1"/>
<line x1="136.30" y1="513.30" x2="136.30" y2="516.30" stroke="#555" stroke-width="1"/>
<line x1="166.23" y1="513.30" x2="166.23" y2="516.30" stroke="#555" stroke-width="1"/>
<line x1="196.17" y1="513.30" x2="196.17" y2="516.30" stroke="#555" stroke-width="1"/>
<line x1="226.10" y1="513.30" x2="226.10" y2="516.30" stroke="#555" stroke-width="1"/>
<line x1="61.47" y1="513.30" x2="61.47" y2="515.30" stroke="#555" stroke-width="0.8"/>
<line x1="91.40" y1="513.30" x2="91.40" y2="515.30" stroke="#555" stroke-width="0.8"/>
<line x1="121.33" y1="513.30" x2="121.33" y2="515.30" stroke="#555" stroke-width="0.8"/>
<line x1="151.27" y1="513.30" x2="151.27" y2="515.30" stroke="#555" stroke-width="0.8"/>
<line x1="181.20" y1="513.30" x2="181.20" y2="515.30" stroke="#555" stroke-width="0.8"/>
<line x1="211.13" y1="513.30" x2="211.13" y2="515.30" stroke="#555" stroke-width="0.8"/>
<text transform="translate(46.50,525.40) scale(1,1.05)" font-size="9.312" text-anchor="middle" font-weight="bold" font-family="Liberation Sans" fill="#111" >0</text>
<text transform="translate(76.43,525.40) scale(1,1.05)" font-size="9.312" text-anchor="middle" font-weight="bold" font-family="Liberation Sans" fill="#111" >5</text>
<text transform="translate(106.37,525.40) scale(1,1.05)" font-size="9.312" text-anchor="middle" font-weight="bold" font-family="Liberation Sans" fill="#111" >10</text>
<text transform="translate(136.30,525.40) scale(1,1.05)" font-size="9.312" text-anchor="middle" font-weight="bold" font-family="Liberation Sans" fill="#111" >15</text>
<text transform="translate(166.23,525.40) scale(1,1.05)" font-size="9.312" text-anchor="middle" font-weight="bold" font-family="Liberation Sans" fill="#111" >20</text>
<text transform="translate(196.17,525.40) scale(1,1.05)" font-size="9.312" text-anchor="middle" font-weight="bold" font-family="Liberation Sans" fill="#111" >25</text>
<text transform="translate(226.10,525.40) scale(1,1.05)" font-size="9.312" text-anchor="middle" font-weight="bold" font-family="Liberation Sans" fill="#111" >30</text>
<text x="136.20" y="539.70" font-size="10.5" text-anchor="middle" font-weight="bold" font-family="Liberation Sans" fill="#111" >c<tspan font-size="7" baseline-shift="-2">e</tspan> (mg·L<tspan font-size="6.5" baseline-shift="3.5">-1</tspan>)</text>
<text transform="translate(12.90,442.20) rotate(-90)" font-size="10.5" text-anchor="middle" font-weight="bold" font-family="Liberation Sans" fill="#111">c<tspan font-size="7" baseline-shift="-2">e</tspan>/q<tspan font-size="7" baseline-shift="-2">e</tspan> (g·L<tspan font-size="6.5" baseline-shift="3.5">-1</tspan>)</text>
<text x="-0.50" y="376.80" font-size="18" text-anchor="start" font-weight="bold" font-family="Liberation Serif" fill="#111" >(g)</text>
<circle cx="56.20" cy="376.50" r="2.0" fill="#f04848"/>
<circle cx="55.60" cy="375.90" r="0.90" fill="#fff" fill-opacity="0.45"/>
<text transform="translate(65.50,379.20) scale(1,1.1)" font-size="8.2" text-anchor="start" font-weight="bold" font-family="Liberation Sans" fill="#111" >298K</text>
<circle cx="56.20" cy="387.00" r="2.0" fill="#1fcf1f"/>
<circle cx="55.60" cy="386.40" r="0.90" fill="#fff" fill-opacity="0.45"/>
<text transform="translate(65.50,389.70) scale(1,1.1)" font-size="8.2" text-anchor="start" font-weight="bold" font-family="Liberation Sans" fill="#111" >308K</text>
<circle cx="56.20" cy="397.50" r="2.0" fill="#3a74e6"/>
<circle cx="55.60" cy="396.90" r="0.90" fill="#fff" fill-opacity="0.45"/>
<text transform="translate(65.50,400.20) scale(1,1.1)" font-size="8.2" text-anchor="start" font-weight="bold" font-family="Liberation Sans" fill="#111" >318K</text>
<polyline points="297.24,492.20 438.42,394.59" fill="none" stroke="#f04848" stroke-width="1.3"/>
<circle cx="297.24" cy="495.89" r="2.1" fill="#f04848"/>
<circle cx="296.64" cy="495.29" r="0.95" fill="#fff" fill-opacity="0.45"/>
<circle cx="335.69" cy="464.76" r="2.1" fill="#f04848"/>
<circle cx="335.09" cy="464.16" r="0.95" fill="#fff" fill-opacity="0.45"/>
<circle cx="366.45" cy="439.44" r="2.1" fill="#f04848"/>
<circle cx="365.85" cy="438.84" r="0.95" fill="#fff" fill-opacity="0.45"/>
<circle cx="404.36" cy="415.69" r="2.1" fill="#f04848"/>
<circle cx="403.76" cy="415.09" r="0.95" fill="#fff" fill-opacity="0.45"/>
<circle cx="438.42" cy="398.28" r="2.1" fill="#f04848"/>
<circle cx="437.82" cy="397.68" r="0.95" fill="#fff" fill-opacity="0.45"/>
<polyline points="297.24,481.64 438.42,388.26" fill="none" stroke="#1fcf1f" stroke-width="1.3"/>
<circle cx="297.24" cy="487.98" r="2.1" fill="#1fcf1f"/>
<circle cx="296.64" cy="487.38" r="0.95" fill="#fff" fill-opacity="0.45"/>
<circle cx="335.69" cy="452.10" r="2.1" fill="#1fcf1f"/>
<circle cx="335.09" cy="451.50" r="0.95" fill="#fff" fill-opacity="0.45"/>
<circle cx="366.45" cy="429.94" r="2.1" fill="#1fcf1f"/>
<circle cx="365.85" cy="429.34" r="0.95" fill="#fff" fill-opacity="0.45"/>
<circle cx="404.36" cy="406.72" r="2.1" fill="#1fcf1f"/>
<circle cx="403.76" cy="406.12" r="0.95" fill="#fff" fill-opacity="0.45"/>
<circle cx="438.42" cy="391.95" r="2.1" fill="#1fcf1f"/>
<circle cx="437.82" cy="391.35" r="0.95" fill="#fff" fill-opacity="0.45"/>
<polyline points="297.24,468.45 438.42,379.82" fill="none" stroke="#2196f0" stroke-width="1.3"/>
<circle cx="297.24" cy="471.09" r="2.1" fill="#2196f0"/>
<circle cx="296.64" cy="470.49" r="0.95" fill="#fff" fill-opacity="0.45"/>
<circle cx="335.69" cy="443.13" r="2.1" fill="#2196f0"/>
<circle cx="335.09" cy="442.53" r="0.95" fill="#fff" fill-opacity="0.45"/>
<circle cx="366.45" cy="420.97" r="2.1" fill="#2196f0"/>
<circle cx="365.85" cy="420.37" r="0.95" fill="#fff" fill-opacity="0.45"/>
<circle cx="404.36" cy="398.81" r="2.1" fill="#2196f0"/>
<circle cx="403.76" cy="398.21" r="0.95" fill="#fff" fill-opacity="0.45"/>
<circle cx="438.42" cy="385.09" r="2.1" fill="#2196f0"/>
<circle cx="437.82" cy="384.49" r="0.95" fill="#fff" fill-opacity="0.45"/>
<rect x="272.30" y="368.50" width="179.70" height="144.80" fill="none" stroke="#555" stroke-width="1"/>
<line x1="269.30" y1="513.30" x2="272.30" y2="513.30" stroke="#555" stroke-width="1"/>
<line x1="269.30" y1="486.92" x2="272.30" y2="486.92" stroke="#555" stroke-width="1"/>
<line x1="269.30" y1="460.54" x2="272.30" y2="460.54" stroke="#555" stroke-width="1"/>
<line x1="269.30" y1="434.16" x2="272.30" y2="434.16" stroke="#555" stroke-width="1"/>
<line x1="269.30" y1="407.78" x2="272.30" y2="407.78" stroke="#555" stroke-width="1"/>
<line x1="269.30" y1="381.40" x2="272.30" y2="381.40" stroke="#555" stroke-width="1"/>
<line x1="270.30" y1="500.11" x2="272.30" y2="500.11" stroke="#555" stroke-width="0.8"/>
<line x1="270.30" y1="473.73" x2="272.30" y2="473.73" stroke="#555" stroke-width="0.8"/>
<line x1="270.30" y1="447.35" x2="272.30" y2="447.35" stroke="#555" stroke-width="0.8"/>
<line x1="270.30" y1="420.97" x2="272.30" y2="420.97" stroke="#555" stroke-width="0.8"/>
<line x1="270.30" y1="394.59" x2="272.30" y2="394.59" stroke="#555" stroke-width="0.8"/>
<line x1="270.30" y1="368.21" x2="272.30" y2="368.21" stroke="#555" stroke-width="0.8"/>
<text transform="translate(267.80,516.30) scale(1,1.05)" font-size="9.312" text-anchor="end" font-weight="bold" font-family="Liberation Sans" fill="#111" >3.5</text>
<text transform="translate(267.80,489.92) scale(1,1.05)" font-size="9.312" text-anchor="end" font-weight="bold" font-family="Liberation Sans" fill="#111" >4.0</text>
<text transform="translate(267.80,463.54) scale(1,1.05)" font-size="9.312" text-anchor="end" font-weight="bold" font-family="Liberation Sans" fill="#111" >4.5</text>
<text transform="translate(267.80,437.16) scale(1,1.05)" font-size="9.312" text-anchor="end" font-weight="bold" font-family="Liberation Sans" fill="#111" >5.0</text>
<text transform="translate(267.80,410.78) scale(1,1.05)" font-size="9.312" text-anchor="end" font-weight="bold" font-family="Liberation Sans" fill="#111" >5.5</text>
<text transform="translate(267.80,384.40) scale(1,1.05)" font-size="9.312" text-anchor="end" font-weight="bold" font-family="Liberation Sans" fill="#111" >6.0</text>
<line x1="286.80" y1="513.30" x2="286.80" y2="516.30" stroke="#555" stroke-width="1"/>
<line x1="314.27" y1="513.30" x2="314.27" y2="516.30" stroke="#555" stroke-width="1"/>
<line x1="341.73" y1="513.30" x2="341.73" y2="516.30" stroke="#555" stroke-width="1"/>
<line x1="369.20" y1="513.30" x2="369.20" y2="516.30" stroke="#555" stroke-width="1"/>
<line x1="396.67" y1="513.30" x2="396.67" y2="516.30" stroke="#555" stroke-width="1"/>
<line x1="424.13" y1="513.30" x2="424.13" y2="516.30" stroke="#555" stroke-width="1"/>
<line x1="451.60" y1="513.30" x2="451.60" y2="516.30" stroke="#555" stroke-width="1"/>
<line x1="300.53" y1="513.30" x2="300.53" y2="515.30" stroke="#555" stroke-width="0.8"/>
<line x1="328.00" y1="513.30" x2="328.00" y2="515.30" stroke="#555" stroke-width="0.8"/>
<line x1="355.47" y1="513.30" x2="355.47" y2="515.30" stroke="#555" stroke-width="0.8"/>
<line x1="382.93" y1="513.30" x2="382.93" y2="515.30" stroke="#555" stroke-width="0.8"/>
<line x1="410.40" y1="513.30" x2="410.40" y2="515.30" stroke="#555" stroke-width="0.8"/>
<line x1="437.87" y1="513.30" x2="437.87" y2="515.30" stroke="#555" stroke-width="0.8"/>
<text transform="translate(286.80,525.40) scale(1,1.05)" font-size="9.312" text-anchor="middle" font-weight="bold" font-family="Liberation Sans" fill="#111" >0.5</text>
<text transform="translate(314.27,525.40) scale(1,1.05)" font-size="9.312" text-anchor="middle" font-weight="bold" font-family="Liberation Sans" fill="#111" >1.0</text>
<text transform="translate(341.73,525.40) scale(1,1.05)" font-size="9.312" text-anchor="middle" font-weight="bold" font-family="Liberation Sans" fill="#111" >1.5</text>
<text transform="translate(369.20,525.40) scale(1,1.05)" font-size="9.312" text-anchor="middle" font-weight="bold" font-family="Liberation Sans" fill="#111" >2.0</text>
<text transform="translate(396.67,525.40) scale(1,1.05)" font-size="9.312" text-anchor="middle" font-weight="bold" font-family="Liberation Sans" fill="#111" >2.5</text>
<text transform="translate(424.13,525.40) scale(1,1.05)" font-size="9.312" text-anchor="middle" font-weight="bold" font-family="Liberation Sans" fill="#111" >3.0</text>
<text transform="translate(451.60,525.40) scale(1,1.05)" font-size="9.312" text-anchor="middle" font-weight="bold" font-family="Liberation Sans" fill="#111" >3.5</text>
<text x="360.60" y="540.50" font-size="10.5" text-anchor="middle" font-weight="bold" font-family="Liberation Sans" fill="#111" >ln (c<tspan font-size="8.5" baseline-shift="-2.5">e</tspan>)</text>
<text transform="translate(248.50,440.90) rotate(-90)" font-size="10.5" text-anchor="middle" font-weight="bold" font-family="Liberation Sans" fill="#111">ln (q<tspan font-size="7" baseline-shift="-2">e</tspan>)</text>
<text x="230.90" y="378.80" font-size="18" text-anchor="start" font-weight="bold" font-family="Liberation Serif" fill="#111" >(h)</text>
<circle cx="282.10" cy="376.90" r="2.0" fill="#f04848"/>
<circle cx="281.50" cy="376.30" r="0.90" fill="#fff" fill-opacity="0.45"/>
<text transform="translate(291.30,379.60) scale(1,1.1)" font-size="8.2" text-anchor="start" font-weight="bold" font-family="Liberation Sans" fill="#111" >298K</text>
<circle cx="282.10" cy="387.35" r="2.0" fill="#1fcf1f"/>
<circle cx="281.50" cy="386.75" r="0.90" fill="#fff" fill-opacity="0.45"/>
<text transform="translate(291.30,390.05) scale(1,1.1)" font-size="8.2" text-anchor="start" font-weight="bold" font-family="Liberation Sans" fill="#111" >308K</text>
<circle cx="282.10" cy="397.80" r="2.0" fill="#2196f0"/>
<circle cx="281.50" cy="397.20" r="0.90" fill="#fff" fill-opacity="0.45"/>
<text transform="translate(291.30,400.50) scale(1,1.1)" font-size="8.2" text-anchor="start" font-weight="bold" font-family="Liberation Sans" fill="#111" >318K</text>
<polyline points="509.80,379.70 662.34,494.33" fill="none" stroke="#111" stroke-width="1.2"/>
<rect x="508.00" y="384.29" width="3.6" height="3.6" fill="#111"/>
<rect x="581.39" y="422.66" width="3.6" height="3.6" fill="#111"/>
<rect x="659.10" y="497.80" width="3.6" height="3.6" fill="#111"/>
<rect x="495.30" y="368.50" width="180.10" height="144.60" fill="none" stroke="#555" stroke-width="1"/>
<line x1="492.30" y1="504.40" x2="495.30" y2="504.40" stroke="#555" stroke-width="1"/>
<line x1="492.30" y1="488.41" x2="495.30" y2="488.41" stroke="#555" stroke-width="1"/>
<line x1="492.30" y1="472.42" x2="495.30" y2="472.42" stroke="#555" stroke-width="1"/>
<line x1="492.30" y1="456.44" x2="495.30" y2="456.44" stroke="#555" stroke-width="1"/>
<line x1="492.30" y1="440.45" x2="495.30" y2="440.45" stroke="#555" stroke-width="1"/>
<line x1="492.30" y1="424.46" x2="495.30" y2="424.46" stroke="#555" stroke-width="1"/>
<line x1="492.30" y1="408.48" x2="495.30" y2="408.48" stroke="#555" stroke-width="1"/>
<line x1="492.30" y1="392.49" x2="495.30" y2="392.49" stroke="#555" stroke-width="1"/>
<line x1="492.30" y1="376.50" x2="495.30" y2="376.50" stroke="#555" stroke-width="1"/>
<line x1="493.30" y1="512.39" x2="495.30" y2="512.39" stroke="#555" stroke-width="0.8"/>
<line x1="493.30" y1="496.41" x2="495.30" y2="496.41" stroke="#555" stroke-width="0.8"/>
<line x1="493.30" y1="480.42" x2="495.30" y2="480.42" stroke="#555" stroke-width="0.8"/>
<line x1="493.30" y1="464.43" x2="495.30" y2="464.43" stroke="#555" stroke-width="0.8"/>
<line x1="493.30" y1="448.44" x2="495.30" y2="448.44" stroke="#555" stroke-width="0.8"/>
<line x1="493.30" y1="432.46" x2="495.30" y2="432.46" stroke="#555" stroke-width="0.8"/>
<line x1="493.30" y1="416.47" x2="495.30" y2="416.47" stroke="#555" stroke-width="0.8"/>
<line x1="493.30" y1="400.48" x2="495.30" y2="400.48" stroke="#555" stroke-width="0.8"/>
<line x1="493.30" y1="384.49" x2="495.30" y2="384.49" stroke="#555" stroke-width="0.8"/>
<text transform="translate(490.80,507.40) scale(1,1.05)" font-size="9.312" text-anchor="end" font-weight="bold" font-family="Liberation Sans" fill="#111" >2.9</text>
<text transform="translate(490.80,491.41) scale(1,1.05)" font-size="9.312" text-anchor="end" font-weight="bold" font-family="Liberation Sans" fill="#111" >3.0</text>
<text transform="translate(490.80,475.42) scale(1,1.05)" font-size="9.312" text-anchor="end" font-weight="bold" font-family="Liberation Sans" fill="#111" >3.1</text>
<text transform="translate(490.80,459.44) scale(1,1.05)" font-size="9.312" text-anchor="end" font-weight="bold" font-family="Liberation Sans" fill="#111" >3.2</text>
<text transform="translate(490.80,443.45) scale(1,1.05)" font-size="9.312" text-anchor="end" font-weight="bold" font-family="Liberation Sans" fill="#111" >3.3</text>
<text transform="translate(490.80,427.46) scale(1,1.05)" font-size="9.312" text-anchor="end" font-weight="bold" font-family="Liberation Sans" fill="#111" >3.4</text>
<text transform="translate(490.80,411.48) scale(1,1.05)" font-size="9.312" text-anchor="end" font-weight="bold" font-family="Liberation Sans" fill="#111" >3.5</text>
<text transform="translate(490.80,395.49) scale(1,1.05)" font-size="9.312" text-anchor="end" font-weight="bold" font-family="Liberation Sans" fill="#111" >3.6</text>
<text transform="translate(490.80,379.50) scale(1,1.05)" font-size="9.312" text-anchor="end" font-weight="bold" font-family="Liberation Sans" fill="#111" >3.7</text>
<line x1="513.40" y1="513.10" x2="513.40" y2="516.10" stroke="#555" stroke-width="1"/>
<line x1="549.38" y1="513.10" x2="549.38" y2="516.10" stroke="#555" stroke-width="1"/>
<line x1="585.35" y1="513.10" x2="585.35" y2="516.10" stroke="#555" stroke-width="1"/>
<line x1="621.32" y1="513.10" x2="621.32" y2="516.10" stroke="#555" stroke-width="1"/>
<line x1="657.30" y1="513.10" x2="657.30" y2="516.10" stroke="#555" stroke-width="1"/>
<line x1="495.41" y1="513.10" x2="495.41" y2="515.10" stroke="#555" stroke-width="0.8"/>
<line x1="531.39" y1="513.10" x2="531.39" y2="515.10" stroke="#555" stroke-width="0.8"/>
<line x1="567.36" y1="513.10" x2="567.36" y2="515.10" stroke="#555" stroke-width="0.8"/>
<line x1="603.34" y1="513.10" x2="603.34" y2="515.10" stroke="#555" stroke-width="0.8"/>
<line x1="639.31" y1="513.10" x2="639.31" y2="515.10" stroke="#555" stroke-width="0.8"/>
<line x1="675.29" y1="513.10" x2="675.29" y2="515.10" stroke="#555" stroke-width="0.8"/>
<text transform="translate(513.40,524.40) scale(1,1.05)" font-size="8.341999999999999" text-anchor="middle" font-weight="bold" font-family="Liberation Sans" fill="#111" >0.00315</text>
<text transform="translate(549.38,524.40) scale(1,1.05)" font-size="8.341999999999999" text-anchor="middle" font-weight="bold" font-family="Liberation Sans" fill="#111" >0.00320</text>
<text transform="translate(585.35,524.40) scale(1,1.05)" font-size="8.341999999999999" text-anchor="middle" font-weight="bold" font-family="Liberation Sans" fill="#111" >0.00325</text>
<text transform="translate(621.32,524.40) scale(1,1.05)" font-size="8.341999999999999" text-anchor="middle" font-weight="bold" font-family="Liberation Sans" fill="#111" >0.00330</text>
<text transform="translate(657.30,524.40) scale(1,1.05)" font-size="8.341999999999999" text-anchor="middle" font-weight="bold" font-family="Liberation Sans" fill="#111" >0.00335</text>
<text x="585.60" y="538.50" font-size="10.5" text-anchor="middle" font-weight="bold" font-family="Liberation Sans" fill="#111" >1/T</text>
<text transform="translate(470.30,445.20) rotate(-90)" font-size="10.5" text-anchor="middle" font-weight="bold" font-family="Liberation Sans" fill="#111">lnK<tspan font-size="7" baseline-shift="-2">d</tspan></text>
<text x="459.00" y="378.70" font-size="18" text-anchor="start" font-weight="bold" font-family="Liberation Serif" fill="#111" >(i)</text>
<text x="518.00" y="464.50" font-size="8" text-anchor="start" font-weight="bold" font-family="Liberation Sans" fill="#111" >y=14.3-3374.4x</text>
<text x="518.00" y="475.50" font-size="8" text-anchor="start" font-weight="bold" font-family="Liberation Sans" fill="#111" >R<tspan font-size="5.5" baseline-shift="3.5">2</tspan>=0.9751</text>
</svg></body></html>
